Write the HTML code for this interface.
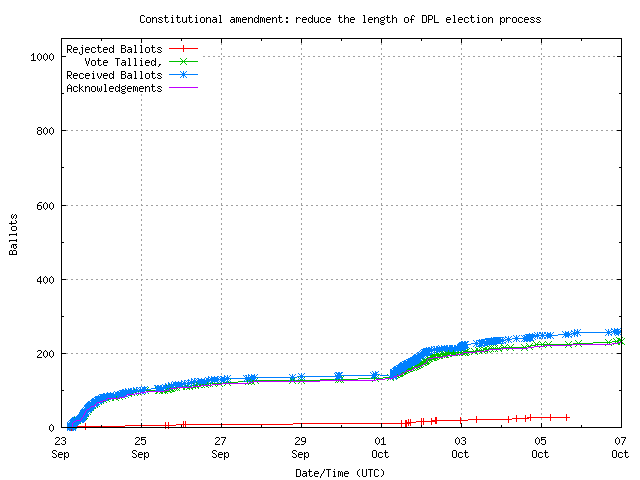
<!DOCTYPE html>
<html><head><meta charset="utf-8"><title>Constitutional amendment: reduce the length of DPL election process</title>
<style>html,body{margin:0;padding:0;background:#fff;overflow:hidden}svg{display:block}
.t{font-family:"Liberation Mono",monospace;font-size:10px;fill:transparent}</style></head><body>
<svg width="640" height="480" viewBox="0 0 640 480" shape-rendering="crispEdges">
<rect x="0" y="0" width="640" height="480" fill="#ffffff"/>
<path id="grid" fill="#a0a0a0" d="M221 38h1v2h-1zM301 38h1v2h-1zM381 38h1v2h-1zM461 38h1v2h-1zM541 38h1v2h-1zM221 43h1v2h-1zM301 43h1v2h-1zM381 43h1v2h-1zM461 43h1v2h-1zM541 43h1v2h-1zM221 48h1v2h-1zM301 48h1v2h-1zM381 48h1v2h-1zM461 48h1v2h-1zM541 48h1v2h-1zM221 53h1v2h-1zM301 53h1v2h-1zM381 53h1v2h-1zM461 53h1v2h-1zM541 53h1v2h-1zM203 56h2v1h-2zM208 56h2v1h-2zM213 56h2v1h-2zM218 56h2v1h-2zM223 56h2v1h-2zM228 56h2v1h-2zM233 56h2v1h-2zM238 56h2v1h-2zM243 56h2v1h-2zM248 56h2v1h-2zM253 56h2v1h-2zM258 56h2v1h-2zM263 56h2v1h-2zM268 56h2v1h-2zM273 56h2v1h-2zM278 56h2v1h-2zM283 56h2v1h-2zM288 56h2v1h-2zM293 56h2v1h-2zM298 56h2v1h-2zM303 56h2v1h-2zM308 56h2v1h-2zM313 56h2v1h-2zM318 56h2v1h-2zM323 56h2v1h-2zM328 56h2v1h-2zM333 56h2v1h-2zM338 56h2v1h-2zM343 56h2v1h-2zM348 56h2v1h-2zM353 56h2v1h-2zM358 56h2v1h-2zM363 56h2v1h-2zM368 56h2v1h-2zM373 56h2v1h-2zM378 56h2v1h-2zM383 56h2v1h-2zM388 56h2v1h-2zM393 56h2v1h-2zM398 56h2v1h-2zM403 56h2v1h-2zM408 56h2v1h-2zM413 56h2v1h-2zM418 56h2v1h-2zM423 56h2v1h-2zM428 56h2v1h-2zM433 56h2v1h-2zM438 56h2v1h-2zM443 56h2v1h-2zM448 56h2v1h-2zM453 56h2v1h-2zM458 56h2v1h-2zM463 56h2v1h-2zM468 56h2v1h-2zM473 56h2v1h-2zM478 56h2v1h-2zM483 56h2v1h-2zM488 56h2v1h-2zM493 56h2v1h-2zM498 56h2v1h-2zM503 56h2v1h-2zM508 56h2v1h-2zM513 56h2v1h-2zM518 56h2v1h-2zM523 56h2v1h-2zM528 56h2v1h-2zM533 56h2v1h-2zM538 56h2v1h-2zM543 56h2v1h-2zM548 56h2v1h-2zM553 56h2v1h-2zM558 56h2v1h-2zM563 56h2v1h-2zM568 56h2v1h-2zM573 56h2v1h-2zM578 56h2v1h-2zM583 56h2v1h-2zM588 56h2v1h-2zM593 56h2v1h-2zM598 56h2v1h-2zM603 56h2v1h-2zM608 56h2v1h-2zM613 56h2v1h-2zM618 56h2v1h-2zM221 58h1v2h-1zM301 58h1v2h-1zM381 58h1v2h-1zM461 58h1v2h-1zM541 58h1v2h-1zM221 63h1v2h-1zM301 63h1v2h-1zM381 63h1v2h-1zM461 63h1v2h-1zM541 63h1v2h-1zM221 68h1v2h-1zM301 68h1v2h-1zM381 68h1v2h-1zM461 68h1v2h-1zM541 68h1v2h-1zM221 73h1v2h-1zM301 73h1v2h-1zM381 73h1v2h-1zM461 73h1v2h-1zM541 73h1v2h-1zM221 78h1v2h-1zM301 78h1v2h-1zM381 78h1v2h-1zM461 78h1v2h-1zM541 78h1v2h-1zM221 83h1v2h-1zM301 83h1v2h-1zM381 83h1v2h-1zM461 83h1v2h-1zM541 83h1v2h-1zM221 88h1v2h-1zM301 88h1v2h-1zM381 88h1v2h-1zM461 88h1v2h-1zM541 88h1v2h-1zM221 93h1v2h-1zM301 93h1v2h-1zM381 93h1v2h-1zM461 93h1v2h-1zM541 93h1v2h-1zM141 94h1v2h-1zM221 98h1v2h-1zM301 98h1v2h-1zM381 98h1v2h-1zM461 98h1v2h-1zM541 98h1v2h-1zM141 99h1v2h-1zM221 103h1v2h-1zM301 103h1v2h-1zM381 103h1v2h-1zM461 103h1v2h-1zM541 103h1v2h-1zM141 104h1v2h-1zM221 108h1v2h-1zM301 108h1v2h-1zM381 108h1v2h-1zM461 108h1v2h-1zM541 108h1v2h-1zM141 109h1v2h-1zM221 113h1v2h-1zM301 113h1v2h-1zM381 113h1v2h-1zM461 113h1v2h-1zM541 113h1v2h-1zM141 114h1v2h-1zM221 118h1v2h-1zM301 118h1v2h-1zM381 118h1v2h-1zM461 118h1v2h-1zM541 118h1v2h-1zM141 119h1v2h-1zM221 123h1v2h-1zM301 123h1v2h-1zM381 123h1v2h-1zM461 123h1v2h-1zM541 123h1v2h-1zM141 124h1v2h-1zM221 128h1v2h-1zM301 128h1v2h-1zM381 128h1v2h-1zM461 128h1v2h-1zM541 128h1v2h-1zM141 129h1v1h-1zM61 130h2v1h-2zM66 130h2v1h-2zM71 130h2v1h-2zM76 130h2v1h-2zM81 130h2v1h-2zM86 130h2v1h-2zM91 130h2v1h-2zM96 130h2v1h-2zM101 130h2v1h-2zM106 130h2v1h-2zM111 130h2v1h-2zM116 130h2v1h-2zM121 130h2v1h-2zM126 130h2v1h-2zM131 130h2v1h-2zM136 130h2v1h-2zM141 130h2v1h-2zM146 130h2v1h-2zM151 130h2v1h-2zM156 130h2v1h-2zM161 130h2v1h-2zM166 130h2v1h-2zM171 130h2v1h-2zM176 130h2v1h-2zM181 130h2v1h-2zM186 130h2v1h-2zM191 130h2v1h-2zM196 130h2v1h-2zM201 130h2v1h-2zM206 130h2v1h-2zM211 130h2v1h-2zM216 130h2v1h-2zM221 130h2v1h-2zM226 130h2v1h-2zM231 130h2v1h-2zM236 130h2v1h-2zM241 130h2v1h-2zM246 130h2v1h-2zM251 130h2v1h-2zM256 130h2v1h-2zM261 130h2v1h-2zM266 130h2v1h-2zM271 130h2v1h-2zM276 130h2v1h-2zM281 130h2v1h-2zM286 130h2v1h-2zM291 130h2v1h-2zM296 130h2v1h-2zM301 130h2v1h-2zM306 130h2v1h-2zM311 130h2v1h-2zM316 130h2v1h-2zM321 130h2v1h-2zM326 130h2v1h-2zM331 130h2v1h-2zM336 130h2v1h-2zM341 130h2v1h-2zM346 130h2v1h-2zM351 130h2v1h-2zM356 130h2v1h-2zM361 130h2v1h-2zM366 130h2v1h-2zM371 130h2v1h-2zM376 130h2v1h-2zM381 130h2v1h-2zM386 130h2v1h-2zM391 130h2v1h-2zM396 130h2v1h-2zM401 130h2v1h-2zM406 130h2v1h-2zM411 130h2v1h-2zM416 130h2v1h-2zM421 130h2v1h-2zM426 130h2v1h-2zM431 130h2v1h-2zM436 130h2v1h-2zM441 130h2v1h-2zM446 130h2v1h-2zM451 130h2v1h-2zM456 130h2v1h-2zM461 130h2v1h-2zM466 130h2v1h-2zM471 130h2v1h-2zM476 130h2v1h-2zM481 130h2v1h-2zM486 130h2v1h-2zM491 130h2v1h-2zM496 130h2v1h-2zM501 130h2v1h-2zM506 130h2v1h-2zM511 130h2v1h-2zM516 130h2v1h-2zM521 130h2v1h-2zM526 130h2v1h-2zM531 130h2v1h-2zM536 130h2v1h-2zM541 130h2v1h-2zM546 130h2v1h-2zM551 130h2v1h-2zM556 130h2v1h-2zM561 130h2v1h-2zM566 130h2v1h-2zM571 130h2v1h-2zM576 130h2v1h-2zM581 130h2v1h-2zM586 130h2v1h-2zM591 130h2v1h-2zM596 130h2v1h-2zM601 130h2v1h-2zM606 130h2v1h-2zM611 130h2v1h-2zM616 130h2v1h-2zM621 130h1v1h-1zM221 133h1v2h-1zM301 133h1v2h-1zM381 133h1v2h-1zM461 133h1v2h-1zM541 133h1v2h-1zM141 134h1v2h-1zM221 138h1v2h-1zM301 138h1v2h-1zM381 138h1v2h-1zM461 138h1v2h-1zM541 138h1v2h-1zM141 139h1v2h-1zM221 143h1v2h-1zM301 143h1v2h-1zM381 143h1v2h-1zM461 143h1v2h-1zM541 143h1v2h-1zM141 144h1v2h-1zM221 148h1v2h-1zM301 148h1v2h-1zM381 148h1v2h-1zM461 148h1v2h-1zM541 148h1v2h-1zM141 149h1v2h-1zM221 153h1v2h-1zM301 153h1v2h-1zM381 153h1v2h-1zM461 153h1v2h-1zM541 153h1v2h-1zM141 154h1v2h-1zM221 158h1v2h-1zM301 158h1v2h-1zM381 158h1v2h-1zM461 158h1v2h-1zM541 158h1v2h-1zM141 159h1v2h-1zM221 163h1v2h-1zM301 163h1v2h-1zM381 163h1v2h-1zM461 163h1v2h-1zM541 163h1v2h-1zM141 164h1v2h-1zM221 168h1v2h-1zM301 168h1v2h-1zM381 168h1v2h-1zM461 168h1v2h-1zM541 168h1v2h-1zM141 169h1v2h-1zM221 173h1v2h-1zM301 173h1v2h-1zM381 173h1v2h-1zM461 173h1v2h-1zM541 173h1v2h-1zM141 174h1v2h-1zM221 178h1v2h-1zM301 178h1v2h-1zM381 178h1v2h-1zM461 178h1v2h-1zM541 178h1v2h-1zM141 179h1v2h-1zM221 183h1v2h-1zM301 183h1v2h-1zM381 183h1v2h-1zM461 183h1v2h-1zM541 183h1v2h-1zM141 184h1v2h-1zM221 188h1v2h-1zM301 188h1v2h-1zM381 188h1v2h-1zM461 188h1v2h-1zM541 188h1v2h-1zM141 189h1v2h-1zM221 193h1v2h-1zM301 193h1v2h-1zM381 193h1v2h-1zM461 193h1v2h-1zM541 193h1v2h-1zM141 194h1v2h-1zM221 198h1v2h-1zM301 198h1v2h-1zM381 198h1v2h-1zM461 198h1v2h-1zM541 198h1v2h-1zM141 199h1v2h-1zM221 203h1v2h-1zM301 203h1v2h-1zM381 203h1v2h-1zM461 203h1v2h-1zM541 203h1v2h-1zM141 204h1v1h-1zM61 205h2v1h-2zM66 205h2v1h-2zM71 205h2v1h-2zM76 205h2v1h-2zM81 205h2v1h-2zM86 205h2v1h-2zM91 205h2v1h-2zM96 205h2v1h-2zM101 205h2v1h-2zM106 205h2v1h-2zM111 205h2v1h-2zM116 205h2v1h-2zM121 205h2v1h-2zM126 205h2v1h-2zM131 205h2v1h-2zM136 205h2v1h-2zM141 205h2v1h-2zM146 205h2v1h-2zM151 205h2v1h-2zM156 205h2v1h-2zM161 205h2v1h-2zM166 205h2v1h-2zM171 205h2v1h-2zM176 205h2v1h-2zM181 205h2v1h-2zM186 205h2v1h-2zM191 205h2v1h-2zM196 205h2v1h-2zM201 205h2v1h-2zM206 205h2v1h-2zM211 205h2v1h-2zM216 205h2v1h-2zM221 205h2v1h-2zM226 205h2v1h-2zM231 205h2v1h-2zM236 205h2v1h-2zM241 205h2v1h-2zM246 205h2v1h-2zM251 205h2v1h-2zM256 205h2v1h-2zM261 205h2v1h-2zM266 205h2v1h-2zM271 205h2v1h-2zM276 205h2v1h-2zM281 205h2v1h-2zM286 205h2v1h-2zM291 205h2v1h-2zM296 205h2v1h-2zM301 205h2v1h-2zM306 205h2v1h-2zM311 205h2v1h-2zM316 205h2v1h-2zM321 205h2v1h-2zM326 205h2v1h-2zM331 205h2v1h-2zM336 205h2v1h-2zM341 205h2v1h-2zM346 205h2v1h-2zM351 205h2v1h-2zM356 205h2v1h-2zM361 205h2v1h-2zM366 205h2v1h-2zM371 205h2v1h-2zM376 205h2v1h-2zM381 205h2v1h-2zM386 205h2v1h-2zM391 205h2v1h-2zM396 205h2v1h-2zM401 205h2v1h-2zM406 205h2v1h-2zM411 205h2v1h-2zM416 205h2v1h-2zM421 205h2v1h-2zM426 205h2v1h-2zM431 205h2v1h-2zM436 205h2v1h-2zM441 205h2v1h-2zM446 205h2v1h-2zM451 205h2v1h-2zM456 205h2v1h-2zM461 205h2v1h-2zM466 205h2v1h-2zM471 205h2v1h-2zM476 205h2v1h-2zM481 205h2v1h-2zM486 205h2v1h-2zM491 205h2v1h-2zM496 205h2v1h-2zM501 205h2v1h-2zM506 205h2v1h-2zM511 205h2v1h-2zM516 205h2v1h-2zM521 205h2v1h-2zM526 205h2v1h-2zM531 205h2v1h-2zM536 205h2v1h-2zM541 205h2v1h-2zM546 205h2v1h-2zM551 205h2v1h-2zM556 205h2v1h-2zM561 205h2v1h-2zM566 205h2v1h-2zM571 205h2v1h-2zM576 205h2v1h-2zM581 205h2v1h-2zM586 205h2v1h-2zM591 205h2v1h-2zM596 205h2v1h-2zM601 205h2v1h-2zM606 205h2v1h-2zM611 205h2v1h-2zM616 205h2v1h-2zM621 205h1v1h-1zM221 208h1v2h-1zM301 208h1v2h-1zM381 208h1v2h-1zM461 208h1v2h-1zM541 208h1v2h-1zM141 209h1v2h-1zM221 213h1v2h-1zM301 213h1v2h-1zM381 213h1v2h-1zM461 213h1v2h-1zM541 213h1v2h-1zM141 214h1v2h-1zM221 218h1v2h-1zM301 218h1v2h-1zM381 218h1v2h-1zM461 218h1v2h-1zM541 218h1v2h-1zM141 219h1v2h-1zM221 223h1v2h-1zM301 223h1v2h-1zM381 223h1v2h-1zM461 223h1v2h-1zM541 223h1v2h-1zM141 224h1v2h-1zM221 228h1v2h-1zM301 228h1v2h-1zM381 228h1v2h-1zM461 228h1v2h-1zM541 228h1v2h-1zM141 229h1v2h-1zM221 233h1v2h-1zM301 233h1v2h-1zM381 233h1v2h-1zM461 233h1v2h-1zM541 233h1v2h-1zM141 234h1v2h-1zM221 238h1v2h-1zM301 238h1v2h-1zM381 238h1v2h-1zM461 238h1v2h-1zM541 238h1v2h-1zM141 239h1v2h-1zM221 243h1v2h-1zM301 243h1v2h-1zM381 243h1v2h-1zM461 243h1v2h-1zM541 243h1v2h-1zM141 244h1v2h-1zM221 248h1v2h-1zM301 248h1v2h-1zM381 248h1v2h-1zM461 248h1v2h-1zM541 248h1v2h-1zM141 249h1v2h-1zM221 253h1v2h-1zM301 253h1v2h-1zM381 253h1v2h-1zM461 253h1v2h-1zM541 253h1v2h-1zM141 254h1v2h-1zM221 258h1v2h-1zM301 258h1v2h-1zM381 258h1v2h-1zM461 258h1v2h-1zM541 258h1v2h-1zM141 259h1v2h-1zM221 263h1v2h-1zM301 263h1v2h-1zM381 263h1v2h-1zM461 263h1v2h-1zM541 263h1v2h-1zM141 264h1v2h-1zM221 268h1v2h-1zM301 268h1v2h-1zM381 268h1v2h-1zM461 268h1v2h-1zM541 268h1v2h-1zM141 269h1v2h-1zM221 273h1v2h-1zM301 273h1v2h-1zM381 273h1v2h-1zM461 273h1v2h-1zM541 273h1v2h-1zM141 274h1v2h-1zM221 278h1v1h-1zM301 278h1v1h-1zM381 278h1v1h-1zM461 278h1v1h-1zM541 278h1v1h-1zM61 279h2v1h-2zM66 279h2v1h-2zM71 279h2v1h-2zM76 279h2v1h-2zM81 279h2v1h-2zM86 279h2v1h-2zM91 279h2v1h-2zM96 279h2v1h-2zM101 279h2v1h-2zM106 279h2v1h-2zM111 279h2v1h-2zM116 279h2v1h-2zM121 279h2v1h-2zM126 279h2v1h-2zM131 279h2v1h-2zM136 279h2v1h-2zM141 279h2v1h-2zM146 279h2v1h-2zM151 279h2v1h-2zM156 279h2v1h-2zM161 279h2v1h-2zM166 279h2v1h-2zM171 279h2v1h-2zM176 279h2v1h-2zM181 279h2v1h-2zM186 279h2v1h-2zM191 279h2v1h-2zM196 279h2v1h-2zM201 279h2v1h-2zM206 279h2v1h-2zM211 279h2v1h-2zM216 279h2v1h-2zM221 279h2v1h-2zM226 279h2v1h-2zM231 279h2v1h-2zM236 279h2v1h-2zM241 279h2v1h-2zM246 279h2v1h-2zM251 279h2v1h-2zM256 279h2v1h-2zM261 279h2v1h-2zM266 279h2v1h-2zM271 279h2v1h-2zM276 279h2v1h-2zM281 279h2v1h-2zM286 279h2v1h-2zM291 279h2v1h-2zM296 279h2v1h-2zM301 279h2v1h-2zM306 279h2v1h-2zM311 279h2v1h-2zM316 279h2v1h-2zM321 279h2v1h-2zM326 279h2v1h-2zM331 279h2v1h-2zM336 279h2v1h-2zM341 279h2v1h-2zM346 279h2v1h-2zM351 279h2v1h-2zM356 279h2v1h-2zM361 279h2v1h-2zM366 279h2v1h-2zM371 279h2v1h-2zM376 279h2v1h-2zM381 279h2v1h-2zM386 279h2v1h-2zM391 279h2v1h-2zM396 279h2v1h-2zM401 279h2v1h-2zM406 279h2v1h-2zM411 279h2v1h-2zM416 279h2v1h-2zM421 279h2v1h-2zM426 279h2v1h-2zM431 279h2v1h-2zM436 279h2v1h-2zM441 279h2v1h-2zM446 279h2v1h-2zM451 279h2v1h-2zM456 279h2v1h-2zM461 279h2v1h-2zM466 279h2v1h-2zM471 279h2v1h-2zM476 279h2v1h-2zM481 279h2v1h-2zM486 279h2v1h-2zM491 279h2v1h-2zM496 279h2v1h-2zM501 279h2v1h-2zM506 279h2v1h-2zM511 279h2v1h-2zM516 279h2v1h-2zM521 279h2v1h-2zM526 279h2v1h-2zM531 279h2v1h-2zM536 279h2v1h-2zM541 279h2v1h-2zM546 279h2v1h-2zM551 279h2v1h-2zM556 279h2v1h-2zM561 279h2v1h-2zM566 279h2v1h-2zM571 279h2v1h-2zM576 279h2v1h-2zM581 279h2v1h-2zM586 279h2v1h-2zM591 279h2v1h-2zM596 279h2v1h-2zM601 279h2v1h-2zM606 279h2v1h-2zM611 279h2v1h-2zM616 279h2v1h-2zM621 279h1v1h-1zM141 280h1v1h-1zM221 283h1v2h-1zM301 283h1v2h-1zM381 283h1v2h-1zM461 283h1v2h-1zM541 283h1v2h-1zM141 284h1v2h-1zM221 288h1v2h-1zM301 288h1v2h-1zM381 288h1v2h-1zM461 288h1v2h-1zM541 288h1v2h-1zM141 289h1v2h-1zM221 293h1v2h-1zM301 293h1v2h-1zM381 293h1v2h-1zM461 293h1v2h-1zM541 293h1v2h-1zM141 294h1v2h-1zM221 298h1v2h-1zM301 298h1v2h-1zM381 298h1v2h-1zM461 298h1v2h-1zM541 298h1v2h-1zM141 299h1v2h-1zM221 303h1v2h-1zM301 303h1v2h-1zM381 303h1v2h-1zM461 303h1v2h-1zM541 303h1v2h-1zM141 304h1v2h-1zM221 308h1v2h-1zM301 308h1v2h-1zM381 308h1v2h-1zM461 308h1v2h-1zM541 308h1v2h-1zM141 309h1v2h-1zM221 313h1v2h-1zM301 313h1v2h-1zM381 313h1v2h-1zM461 313h1v2h-1zM541 313h1v2h-1zM141 314h1v2h-1zM221 318h1v2h-1zM301 318h1v2h-1zM381 318h1v2h-1zM461 318h1v2h-1zM541 318h1v2h-1zM141 319h1v2h-1zM221 323h1v2h-1zM301 323h1v2h-1zM381 323h1v2h-1zM461 323h1v2h-1zM541 323h1v2h-1zM141 324h1v2h-1zM221 328h1v2h-1zM301 328h1v2h-1zM381 328h1v2h-1zM461 328h1v2h-1zM541 328h1v2h-1zM141 329h1v2h-1zM221 333h1v2h-1zM301 333h1v2h-1zM381 333h1v2h-1zM461 333h1v2h-1zM541 333h1v2h-1zM141 334h1v2h-1zM221 338h1v2h-1zM301 338h1v2h-1zM381 338h1v2h-1zM461 338h1v2h-1zM541 338h1v2h-1zM141 339h1v2h-1zM221 343h1v2h-1zM301 343h1v2h-1zM381 343h1v2h-1zM461 343h1v2h-1zM541 343h1v2h-1zM141 344h1v2h-1zM221 348h1v2h-1zM301 348h1v2h-1zM381 348h1v2h-1zM461 348h1v2h-1zM541 348h1v2h-1zM141 349h1v2h-1zM61 353h2v1h-2zM66 353h2v1h-2zM71 353h2v1h-2zM76 353h2v1h-2zM81 353h2v1h-2zM86 353h2v1h-2zM91 353h2v1h-2zM96 353h2v1h-2zM101 353h2v1h-2zM106 353h2v1h-2zM111 353h2v1h-2zM116 353h2v1h-2zM121 353h2v1h-2zM126 353h2v1h-2zM131 353h2v1h-2zM136 353h2v1h-2zM141 353h2v1h-2zM146 353h2v1h-2zM151 353h2v1h-2zM156 353h2v1h-2zM161 353h2v1h-2zM166 353h2v1h-2zM171 353h2v1h-2zM176 353h2v1h-2zM181 353h2v1h-2zM186 353h2v1h-2zM191 353h2v1h-2zM196 353h2v1h-2zM201 353h2v1h-2zM206 353h2v1h-2zM211 353h2v1h-2zM216 353h2v1h-2zM221 353h2v1h-2zM226 353h2v1h-2zM231 353h2v1h-2zM236 353h2v1h-2zM241 353h2v1h-2zM246 353h2v1h-2zM251 353h2v1h-2zM256 353h2v1h-2zM261 353h2v1h-2zM266 353h2v1h-2zM271 353h2v1h-2zM276 353h2v1h-2zM281 353h2v1h-2zM286 353h2v1h-2zM291 353h2v1h-2zM296 353h2v1h-2zM301 353h2v1h-2zM306 353h2v1h-2zM311 353h2v1h-2zM316 353h2v1h-2zM321 353h2v1h-2zM326 353h2v1h-2zM331 353h2v1h-2zM336 353h2v1h-2zM341 353h2v1h-2zM346 353h2v1h-2zM351 353h2v1h-2zM356 353h2v1h-2zM361 353h2v1h-2zM366 353h2v1h-2zM371 353h2v1h-2zM376 353h2v1h-2zM381 353h2v1h-2zM386 353h2v1h-2zM391 353h2v1h-2zM396 353h2v1h-2zM401 353h2v1h-2zM406 353h2v1h-2zM411 353h2v1h-2zM416 353h2v1h-2zM421 353h2v1h-2zM426 353h2v1h-2zM431 353h2v1h-2zM436 353h2v1h-2zM441 353h2v1h-2zM446 353h2v1h-2zM451 353h2v1h-2zM456 353h2v1h-2zM461 353h2v1h-2zM466 353h2v1h-2zM471 353h2v1h-2zM476 353h2v1h-2zM481 353h2v1h-2zM486 353h2v1h-2zM491 353h2v1h-2zM496 353h2v1h-2zM501 353h2v1h-2zM506 353h2v1h-2zM511 353h2v1h-2zM516 353h2v1h-2zM521 353h2v1h-2zM526 353h2v1h-2zM531 353h2v1h-2zM536 353h2v1h-2zM541 353h2v1h-2zM546 353h2v1h-2zM551 353h2v1h-2zM556 353h2v1h-2zM561 353h2v1h-2zM566 353h2v1h-2zM571 353h2v1h-2zM576 353h2v1h-2zM581 353h2v1h-2zM586 353h2v1h-2zM591 353h2v1h-2zM596 353h2v1h-2zM601 353h2v1h-2zM606 353h2v1h-2zM611 353h2v1h-2zM616 353h2v1h-2zM621 353h1v1h-1zM141 354h1v2h-1zM221 354h1v1h-1zM301 354h1v1h-1zM381 354h1v1h-1zM461 354h1v1h-1zM541 354h1v1h-1zM221 358h1v2h-1zM301 358h1v2h-1zM381 358h1v2h-1zM461 358h1v2h-1zM541 358h1v2h-1zM141 359h1v2h-1zM221 363h1v2h-1zM301 363h1v2h-1zM381 363h1v2h-1zM461 363h1v2h-1zM541 363h1v2h-1zM141 364h1v2h-1zM221 368h1v2h-1zM301 368h1v2h-1zM381 368h1v2h-1zM461 368h1v2h-1zM541 368h1v2h-1zM141 369h1v2h-1zM221 373h1v2h-1zM301 373h1v2h-1zM381 373h1v2h-1zM461 373h1v2h-1zM541 373h1v2h-1zM141 374h1v2h-1zM221 378h1v2h-1zM301 378h1v2h-1zM381 378h1v2h-1zM461 378h1v2h-1zM541 378h1v2h-1zM141 379h1v2h-1zM221 383h1v2h-1zM301 383h1v2h-1zM381 383h1v2h-1zM461 383h1v2h-1zM541 383h1v2h-1zM141 384h1v2h-1zM221 388h1v2h-1zM301 388h1v2h-1zM381 388h1v2h-1zM461 388h1v2h-1zM541 388h1v2h-1zM141 389h1v2h-1zM221 393h1v2h-1zM301 393h1v2h-1zM381 393h1v2h-1zM461 393h1v2h-1zM541 393h1v2h-1zM141 394h1v2h-1zM221 398h1v2h-1zM301 398h1v2h-1zM381 398h1v2h-1zM461 398h1v2h-1zM541 398h1v2h-1zM141 399h1v2h-1zM221 403h1v2h-1zM301 403h1v2h-1zM381 403h1v2h-1zM461 403h1v2h-1zM541 403h1v2h-1zM141 404h1v2h-1zM221 408h1v2h-1zM301 408h1v2h-1zM381 408h1v2h-1zM461 408h1v2h-1zM541 408h1v2h-1zM141 409h1v2h-1zM221 413h1v2h-1zM301 413h1v2h-1zM381 413h1v2h-1zM461 413h1v2h-1zM541 413h1v2h-1zM141 414h1v2h-1zM221 418h1v2h-1zM301 418h1v2h-1zM381 418h1v2h-1zM461 418h1v2h-1zM541 418h1v2h-1zM141 419h1v2h-1zM221 423h1v2h-1zM301 423h1v2h-1zM381 423h1v2h-1zM461 423h1v2h-1zM541 423h1v2h-1zM141 424h1v2h-1z"/>
<g id="labels" fill="#000000">
<path d="M141 15h3v1h-3zM165 15h1v2h-1zM172 15h1v1h-1zM177 15h1v2h-1zM189 15h1v2h-1zM196 15h1v1h-1zM219 15h2v1h-2zM258 15h1v3h-1zM279 15h1v2h-1zM312 15h1v3h-1zM339 15h1v2h-1zM344 15h1v3h-1zM363 15h2v1h-2zM387 15h1v2h-1zM392 15h1v3h-1zM412 15h2v1h-2zM422 15h4v1h-4zM428 15h4v1h-4zM434 15h1v7h-1zM453 15h2v1h-2zM471 15h1v2h-1zM478 15h1v1h-1zM140 16h1v6h-1zM144 16h1v1h-1zM220 16h1v6h-1zM364 16h1v6h-1zM384 16h1v1h-1zM411 16h1v3h-1zM414 16h1v1h-1zM422 16h1v6h-1zM426 16h1v6h-1zM428 16h1v3h-1zM432 16h1v3h-1zM454 16h1v6h-1zM147 17h3v1h-3zM152 17h1v1h-1zM154 17h2v1h-2zM159 17h3v1h-3zM164 17h4v1h-4zM171 17h2v1h-2zM176 17h4v1h-4zM182 17h1v5h-1zM186 17h1v4h-1zM188 17h4v1h-4zM195 17h2v1h-2zM201 17h3v1h-3zM206 17h1v1h-1zM208 17h2v1h-2zM213 17h3v1h-3zM231 17h3v1h-3zM236 17h2v1h-2zM239 17h1v1h-1zM243 17h3v1h-3zM248 17h1v1h-1zM250 17h2v1h-2zM255 17h2v1h-2zM260 17h2v1h-2zM263 17h1v1h-1zM267 17h3v1h-3zM272 17h1v1h-1zM274 17h2v1h-2zM278 17h4v1h-4zM286 17h2v2h-2zM296 17h1v1h-1zM298 17h2v1h-2zM303 17h3v1h-3zM309 17h2v1h-2zM314 17h1v5h-1zM318 17h1v4h-1zM321 17h3v1h-3zM327 17h3v1h-3zM338 17h4v1h-4zM346 17h2v1h-2zM351 17h3v1h-3zM369 17h3v1h-3zM374 17h1v1h-1zM376 17h2v1h-2zM381 17h3v1h-3zM386 17h4v1h-4zM394 17h2v1h-2zM405 17h3v1h-3zM447 17h3v1h-3zM459 17h3v1h-3zM465 17h3v1h-3zM470 17h4v1h-4zM477 17h2v1h-2zM483 17h3v1h-3zM488 17h1v1h-1zM490 17h2v1h-2zM500 17h1v1h-1zM502 17h2v1h-2zM506 17h1v1h-1zM508 17h2v1h-2zM513 17h3v1h-3zM519 17h3v1h-3zM525 17h3v1h-3zM531 17h3v1h-3zM537 17h3v1h-3zM146 18h1v4h-1zM150 18h1v4h-1zM152 18h2v1h-2zM156 18h1v5h-1zM158 18h1v1h-1zM162 18h1v1h-1zM165 18h1v4h-1zM172 18h1v4h-1zM177 18h1v4h-1zM189 18h1v4h-1zM196 18h1v4h-1zM200 18h1v4h-1zM204 18h1v4h-1zM206 18h2v1h-2zM210 18h1v5h-1zM216 18h1v1h-1zM234 18h1v1h-1zM236 18h1v5h-1zM238 18h1v4h-1zM240 18h1v5h-1zM242 18h1v1h-1zM246 18h1v1h-1zM248 18h2v1h-2zM252 18h1v5h-1zM254 18h1v4h-1zM257 18h2v1h-2zM260 18h1v5h-1zM262 18h1v4h-1zM264 18h1v5h-1zM266 18h1v1h-1zM270 18h1v1h-1zM272 18h2v1h-2zM276 18h1v5h-1zM279 18h1v4h-1zM296 18h2v1h-2zM300 18h1v1h-1zM302 18h1v1h-1zM306 18h1v1h-1zM308 18h1v4h-1zM311 18h2v1h-2zM320 18h1v4h-1zM324 18h1v1h-1zM326 18h1v1h-1zM330 18h1v1h-1zM339 18h1v4h-1zM344 18h2v1h-2zM348 18h1v5h-1zM350 18h1v1h-1zM354 18h1v1h-1zM368 18h1v1h-1zM372 18h1v1h-1zM374 18h2v1h-2zM378 18h1v5h-1zM380 18h1v2h-1zM384 18h1v2h-1zM387 18h1v4h-1zM392 18h2v1h-2zM396 18h1v5h-1zM404 18h1v4h-1zM408 18h1v4h-1zM446 18h1v1h-1zM450 18h1v1h-1zM458 18h1v1h-1zM462 18h1v1h-1zM464 18h1v4h-1zM468 18h1v1h-1zM471 18h1v4h-1zM478 18h1v4h-1zM482 18h1v4h-1zM486 18h1v4h-1zM488 18h2v1h-2zM492 18h1v5h-1zM500 18h2v1h-2zM504 18h1v4h-1zM506 18h2v1h-2zM510 18h1v1h-1zM512 18h1v4h-1zM516 18h1v4h-1zM518 18h1v4h-1zM522 18h1v1h-1zM524 18h1v1h-1zM528 18h1v1h-1zM530 18h1v1h-1zM534 18h1v1h-1zM536 18h1v1h-1zM540 18h1v1h-1zM152 19h1v4h-1zM159 19h2v1h-2zM206 19h1v4h-1zM213 19h4v1h-4zM231 19h4v1h-4zM242 19h5v1h-5zM248 19h1v4h-1zM258 19h1v2h-1zM266 19h5v1h-5zM272 19h1v4h-1zM296 19h1v4h-1zM302 19h5v1h-5zM312 19h1v2h-1zM326 19h5v1h-5zM344 19h1v4h-1zM350 19h5v1h-5zM368 19h5v1h-5zM374 19h1v4h-1zM392 19h1v4h-1zM410 19h4v1h-4zM428 19h4v1h-4zM446 19h5v1h-5zM458 19h5v1h-5zM488 19h1v4h-1zM500 19h1v2h-1zM506 19h1v4h-1zM524 19h5v1h-5zM531 19h2v1h-2zM537 19h2v1h-2zM161 20h1v1h-1zM212 20h1v2h-1zM216 20h1v1h-1zM230 20h1v2h-1zM234 20h1v1h-1zM242 20h1v2h-1zM266 20h1v2h-1zM302 20h1v2h-1zM326 20h1v2h-1zM350 20h1v2h-1zM368 20h1v2h-1zM381 20h3v1h-3zM411 20h1v3h-1zM428 20h1v3h-1zM446 20h1v2h-1zM458 20h1v2h-1zM524 20h1v2h-1zM533 20h1v1h-1zM539 20h1v1h-1zM144 21h1v1h-1zM158 21h1v1h-1zM162 21h1v1h-1zM168 21h1v1h-1zM180 21h1v1h-1zM185 21h2v1h-2zM192 21h1v1h-1zM215 21h2v1h-2zM233 21h2v1h-2zM257 21h2v1h-2zM282 21h1v1h-1zM286 21h2v2h-2zM311 21h2v1h-2zM317 21h2v1h-2zM324 21h1v1h-1zM342 21h1v1h-1zM380 21h1v1h-1zM390 21h1v1h-1zM468 21h1v1h-1zM474 21h1v1h-1zM500 21h2v1h-2zM522 21h1v1h-1zM530 21h1v1h-1zM534 21h1v1h-1zM536 21h1v1h-1zM540 21h1v1h-1zM141 22h3v1h-3zM147 22h3v1h-3zM159 22h3v1h-3zM166 22h2v1h-2zM171 22h3v1h-3zM178 22h2v1h-2zM183 22h2v1h-2zM186 22h1v1h-1zM190 22h2v1h-2zM195 22h3v1h-3zM201 22h3v1h-3zM213 22h2v1h-2zM216 22h1v1h-1zM219 22h3v1h-3zM231 22h2v1h-2zM234 22h1v1h-1zM243 22h3v1h-3zM255 22h2v1h-2zM258 22h1v1h-1zM267 22h3v1h-3zM280 22h2v1h-2zM303 22h3v1h-3zM309 22h2v1h-2zM312 22h1v1h-1zM315 22h2v1h-2zM318 22h1v1h-1zM321 22h3v1h-3zM327 22h3v1h-3zM340 22h2v1h-2zM351 22h3v1h-3zM363 22h3v1h-3zM369 22h3v1h-3zM381 22h3v1h-3zM388 22h2v1h-2zM405 22h3v1h-3zM422 22h4v1h-4zM434 22h5v1h-5zM447 22h3v1h-3zM453 22h3v1h-3zM459 22h3v1h-3zM465 22h3v1h-3zM472 22h2v1h-2zM477 22h3v1h-3zM483 22h3v1h-3zM500 22h1v3h-1zM502 22h2v1h-2zM513 22h3v1h-3zM519 22h3v1h-3zM525 22h3v1h-3zM531 22h3v1h-3zM537 22h3v1h-3zM380 23h1v1h-1zM384 23h1v1h-1zM381 24h3v1h-3z"/>
<path d="M51 424h1v1h-1zM50 425h1v1h-1zM52 425h1v1h-1zM49 426h1v4h-1zM53 426h1v4h-1zM50 430h1v1h-1zM52 430h1v1h-1zM51 431h1v1h-1z"/>
<path d="M38 350h3v1h-3zM45 350h1v1h-1zM51 350h1v1h-1zM37 351h1v1h-1zM41 351h1v2h-1zM44 351h1v1h-1zM46 351h1v1h-1zM50 351h1v1h-1zM52 351h1v1h-1zM43 352h1v4h-1zM47 352h1v4h-1zM49 352h1v4h-1zM53 352h1v4h-1zM40 353h1v1h-1zM39 354h1v1h-1zM38 355h1v1h-1zM37 356h1v1h-1zM44 356h1v1h-1zM46 356h1v1h-1zM50 356h1v1h-1zM52 356h1v1h-1zM37 357h5v1h-5zM45 357h1v1h-1zM51 357h1v1h-1z"/>
<path d="M40 276h1v1h-1zM45 276h1v1h-1zM51 276h1v1h-1zM39 277h2v1h-2zM44 277h1v1h-1zM46 277h1v1h-1zM50 277h1v1h-1zM52 277h1v1h-1zM38 278h1v1h-1zM40 278h1v3h-1zM43 278h1v4h-1zM47 278h1v4h-1zM49 278h1v4h-1zM53 278h1v4h-1zM37 279h1v2h-1zM37 281h5v1h-5zM40 282h1v2h-1zM44 282h1v1h-1zM46 282h1v1h-1zM50 282h1v1h-1zM52 282h1v1h-1zM45 283h1v1h-1zM51 283h1v1h-1z"/>
<path d="M39 202h3v1h-3zM45 202h1v1h-1zM51 202h1v1h-1zM38 203h1v1h-1zM44 203h1v1h-1zM46 203h1v1h-1zM50 203h1v1h-1zM52 203h1v1h-1zM37 204h1v1h-1zM43 204h1v4h-1zM47 204h1v4h-1zM49 204h1v4h-1zM53 204h1v4h-1zM37 205h4v1h-4zM37 206h1v3h-1zM41 206h1v3h-1zM44 208h1v1h-1zM46 208h1v1h-1zM50 208h1v1h-1zM52 208h1v1h-1zM38 209h3v1h-3zM45 209h1v1h-1zM51 209h1v1h-1z"/>
<path d="M38 127h3v1h-3zM45 127h1v1h-1zM51 127h1v1h-1zM37 128h1v2h-1zM41 128h1v2h-1zM44 128h1v1h-1zM46 128h1v1h-1zM50 128h1v1h-1zM52 128h1v1h-1zM43 129h1v4h-1zM47 129h1v4h-1zM49 129h1v4h-1zM53 129h1v4h-1zM38 130h3v1h-3zM37 131h1v3h-1zM41 131h1v3h-1zM44 133h1v1h-1zM46 133h1v1h-1zM50 133h1v1h-1zM52 133h1v1h-1zM38 134h3v1h-3zM45 134h1v1h-1zM51 134h1v1h-1z"/>
<path d="M33 53h1v1h-1zM39 53h1v1h-1zM45 53h1v1h-1zM51 53h1v1h-1zM32 54h2v1h-2zM38 54h1v1h-1zM40 54h1v1h-1zM44 54h1v1h-1zM46 54h1v1h-1zM50 54h1v1h-1zM52 54h1v1h-1zM31 55h1v1h-1zM33 55h1v5h-1zM37 55h1v4h-1zM41 55h1v4h-1zM43 55h1v4h-1zM47 55h1v4h-1zM49 55h1v4h-1zM53 55h1v4h-1zM38 59h1v1h-1zM40 59h1v1h-1zM44 59h1v1h-1zM46 59h1v1h-1zM50 59h1v1h-1zM52 59h1v1h-1zM31 60h5v1h-5zM39 60h1v1h-1zM45 60h1v1h-1zM51 60h1v1h-1z"/>
<path d="M56 437h3v1h-3zM62 437h3v1h-3zM55 438h1v1h-1zM59 438h1v2h-1zM61 438h1v1h-1zM65 438h1v2h-1zM58 440h1v1h-1zM63 440h2v1h-2zM57 441h1v1h-1zM65 441h1v3h-1zM56 442h1v1h-1zM55 443h1v1h-1zM61 443h1v1h-1zM55 444h5v1h-5zM62 444h3v1h-3z"/>
<path d="M53 450h3v1h-3zM52 451h1v2h-1zM56 451h1v1h-1zM59 452h3v1h-3zM64 452h1v1h-1zM66 452h2v1h-2zM53 453h2v1h-2zM58 453h1v1h-1zM62 453h1v1h-1zM64 453h2v1h-2zM68 453h1v4h-1zM55 454h1v1h-1zM58 454h5v1h-5zM64 454h1v2h-1zM56 455h1v2h-1zM58 455h1v2h-1zM52 456h1v1h-1zM64 456h2v1h-2zM53 457h3v1h-3zM59 457h3v1h-3zM64 457h1v3h-1zM66 457h2v1h-2z"/>
<path d="M136 437h3v1h-3zM141 437h5v1h-5zM135 438h1v1h-1zM139 438h1v2h-1zM141 438h1v1h-1zM141 439h4v1h-4zM138 440h1v1h-1zM141 440h1v1h-1zM145 440h1v4h-1zM137 441h1v1h-1zM136 442h1v1h-1zM135 443h1v1h-1zM141 443h1v1h-1zM135 444h5v1h-5zM142 444h3v1h-3z"/>
<path d="M133 450h3v1h-3zM132 451h1v2h-1zM136 451h1v1h-1zM139 452h3v1h-3zM144 452h1v1h-1zM146 452h2v1h-2zM133 453h2v1h-2zM138 453h1v1h-1zM142 453h1v1h-1zM144 453h2v1h-2zM148 453h1v4h-1zM135 454h1v1h-1zM138 454h5v1h-5zM144 454h1v2h-1zM136 455h1v2h-1zM138 455h1v2h-1zM132 456h1v1h-1zM144 456h2v1h-2zM133 457h3v1h-3zM139 457h3v1h-3zM144 457h1v3h-1zM146 457h2v1h-2z"/>
<path d="M216 437h3v1h-3zM221 437h5v1h-5zM215 438h1v1h-1zM219 438h1v2h-1zM225 438h1v1h-1zM224 439h1v2h-1zM218 440h1v1h-1zM217 441h1v1h-1zM223 441h1v2h-1zM216 442h1v1h-1zM215 443h1v1h-1zM222 443h1v2h-1zM215 444h5v1h-5z"/>
<path d="M213 450h3v1h-3zM212 451h1v2h-1zM216 451h1v1h-1zM219 452h3v1h-3zM224 452h1v1h-1zM226 452h2v1h-2zM213 453h2v1h-2zM218 453h1v1h-1zM222 453h1v1h-1zM224 453h2v1h-2zM228 453h1v4h-1zM215 454h1v1h-1zM218 454h5v1h-5zM224 454h1v2h-1zM216 455h1v2h-1zM218 455h1v2h-1zM212 456h1v1h-1zM224 456h2v1h-2zM213 457h3v1h-3zM219 457h3v1h-3zM224 457h1v3h-1zM226 457h2v1h-2z"/>
<path d="M296 437h3v1h-3zM302 437h3v1h-3zM295 438h1v1h-1zM299 438h1v2h-1zM301 438h1v3h-1zM305 438h1v3h-1zM298 440h1v1h-1zM297 441h1v1h-1zM302 441h4v1h-4zM296 442h1v1h-1zM305 442h1v1h-1zM295 443h1v1h-1zM304 443h1v1h-1zM295 444h5v1h-5zM301 444h3v1h-3z"/>
<path d="M293 450h3v1h-3zM292 451h1v2h-1zM296 451h1v1h-1zM299 452h3v1h-3zM304 452h1v1h-1zM306 452h2v1h-2zM293 453h2v1h-2zM298 453h1v1h-1zM302 453h1v1h-1zM304 453h2v1h-2zM308 453h1v4h-1zM295 454h1v1h-1zM298 454h5v1h-5zM304 454h1v2h-1zM296 455h1v2h-1zM298 455h1v2h-1zM292 456h1v1h-1zM304 456h2v1h-2zM293 457h3v1h-3zM299 457h3v1h-3zM304 457h1v3h-1zM306 457h2v1h-2z"/>
<path d="M377 437h1v1h-1zM383 437h1v1h-1zM376 438h1v1h-1zM378 438h1v1h-1zM382 438h2v1h-2zM375 439h1v4h-1zM379 439h1v4h-1zM381 439h1v1h-1zM383 439h1v5h-1zM376 443h1v1h-1zM378 443h1v1h-1zM377 444h1v1h-1zM381 444h5v1h-5z"/>
<path d="M373 450h3v1h-3zM385 450h1v2h-1zM372 451h1v6h-1zM376 451h1v6h-1zM379 452h3v1h-3zM384 452h4v1h-4zM378 453h1v4h-1zM382 453h1v1h-1zM385 453h1v4h-1zM382 456h1v1h-1zM388 456h1v1h-1zM373 457h3v1h-3zM379 457h3v1h-3zM386 457h2v1h-2z"/>
<path d="M457 437h1v1h-1zM462 437h3v1h-3zM456 438h1v1h-1zM458 438h1v1h-1zM461 438h1v1h-1zM465 438h1v2h-1zM455 439h1v4h-1zM459 439h1v4h-1zM463 440h2v1h-2zM465 441h1v3h-1zM456 443h1v1h-1zM458 443h1v1h-1zM461 443h1v1h-1zM457 444h1v1h-1zM462 444h3v1h-3z"/>
<path d="M453 450h3v1h-3zM465 450h1v2h-1zM452 451h1v6h-1zM456 451h1v6h-1zM459 452h3v1h-3zM464 452h4v1h-4zM458 453h1v4h-1zM462 453h1v1h-1zM465 453h1v4h-1zM462 456h1v1h-1zM468 456h1v1h-1zM453 457h3v1h-3zM459 457h3v1h-3zM466 457h2v1h-2z"/>
<path d="M537 437h1v1h-1zM541 437h5v1h-5zM536 438h1v1h-1zM538 438h1v1h-1zM541 438h1v1h-1zM535 439h1v4h-1zM539 439h1v4h-1zM541 439h4v1h-4zM541 440h1v1h-1zM545 440h1v4h-1zM536 443h1v1h-1zM538 443h1v1h-1zM541 443h1v1h-1zM537 444h1v1h-1zM542 444h3v1h-3z"/>
<path d="M533 450h3v1h-3zM545 450h1v2h-1zM532 451h1v6h-1zM536 451h1v6h-1zM539 452h3v1h-3zM544 452h4v1h-4zM538 453h1v4h-1zM542 453h1v1h-1zM545 453h1v4h-1zM542 456h1v1h-1zM548 456h1v1h-1zM533 457h3v1h-3zM539 457h3v1h-3zM546 457h2v1h-2z"/>
<path d="M617 437h1v1h-1zM621 437h5v1h-5zM616 438h1v1h-1zM618 438h1v1h-1zM625 438h1v1h-1zM615 439h1v4h-1zM619 439h1v4h-1zM624 439h1v2h-1zM623 441h1v2h-1zM616 443h1v1h-1zM618 443h1v1h-1zM622 443h1v2h-1zM617 444h1v1h-1z"/>
<path d="M613 450h3v1h-3zM625 450h1v2h-1zM612 451h1v6h-1zM616 451h1v6h-1zM619 452h3v1h-3zM624 452h4v1h-4zM618 453h1v4h-1zM622 453h1v1h-1zM625 453h1v4h-1zM622 456h1v1h-1zM628 456h1v1h-1zM613 457h3v1h-3zM619 457h3v1h-3zM626 457h2v1h-2z"/>
<path d="M296 469h4v1h-4zM309 469h1v2h-1zM324 469h1v2h-1zM326 469h5v1h-5zM334 469h1v1h-1zM359 469h1v1h-1zM362 469h1v7h-1zM366 469h1v7h-1zM368 469h5v1h-5zM375 469h3v1h-3zM381 469h1v1h-1zM296 470h1v6h-1zM300 470h1v6h-1zM328 470h1v7h-1zM358 470h1v1h-1zM370 470h1v7h-1zM374 470h1v6h-1zM378 470h1v1h-1zM382 470h1v1h-1zM303 471h3v1h-3zM308 471h4v1h-4zM315 471h3v1h-3zM323 471h1v2h-1zM333 471h2v1h-2zM338 471h2v1h-2zM341 471h1v1h-1zM345 471h3v1h-3zM357 471h1v4h-1zM383 471h1v4h-1zM306 472h1v1h-1zM309 472h1v4h-1zM314 472h1v1h-1zM318 472h1v1h-1zM334 472h1v4h-1zM338 472h1v5h-1zM340 472h1v4h-1zM342 472h1v5h-1zM344 472h1v1h-1zM348 472h1v1h-1zM303 473h4v1h-4zM314 473h5v1h-5zM322 473h1v1h-1zM344 473h5v1h-5zM302 474h1v2h-1zM306 474h1v1h-1zM314 474h1v2h-1zM321 474h1v2h-1zM344 474h1v2h-1zM305 475h2v1h-2zM312 475h1v1h-1zM358 475h1v1h-1zM378 475h1v1h-1zM382 475h1v1h-1zM296 476h4v1h-4zM303 476h2v1h-2zM306 476h1v1h-1zM310 476h2v1h-2zM315 476h3v1h-3zM320 476h1v2h-1zM333 476h3v1h-3zM345 476h3v1h-3zM359 476h1v1h-1zM363 476h3v1h-3zM375 476h3v1h-3zM381 476h1v1h-1z"/>
<path d="M12 214h1v1h-1zM15 214h1v1h-1zM11 215h1v3h-1zM14 215h1v1h-1zM16 215h1v3h-1zM13 216h1v2h-1zM12 218h1v1h-1zM15 218h1v1h-1zM15 220h1v1h-1zM11 221h1v2h-1zM16 221h1v2h-1zM9 223h7v1h-7zM11 224h1v1h-1zM12 226h4v1h-4zM11 227h1v3h-1zM16 227h1v3h-1zM12 230h4v1h-4zM16 233h1v1h-1zM9 234h8v1h-8zM9 235h1v1h-1zM16 235h1v1h-1zM16 239h1v1h-1zM9 240h8v1h-8zM9 241h1v1h-1zM16 241h1v1h-1zM12 244h5v1h-5zM11 245h1v3h-1zM13 245h1v3h-1zM15 245h1v1h-1zM16 246h1v2h-1zM14 248h2v1h-2zM10 250h2v1h-2zM13 250h3v1h-3zM9 251h1v3h-1zM12 251h1v3h-1zM16 251h1v3h-1zM9 254h8v1h-8z"/>
<path d="M67 45h4v1h-4zM82 45h1v1h-1zM98 45h1v2h-1zM113 45h1v3h-1zM121 45h4v1h-4zM134 45h2v1h-2zM140 45h2v1h-2zM152 45h1v2h-1zM67 46h1v3h-1zM71 46h1v3h-1zM121 46h1v2h-1zM125 46h1v2h-1zM135 46h1v6h-1zM141 46h1v6h-1zM74 47h3v1h-3zM81 47h2v1h-2zM86 47h3v1h-3zM92 47h3v1h-3zM97 47h4v1h-4zM104 47h3v1h-3zM110 47h2v1h-2zM128 47h3v1h-3zM146 47h3v1h-3zM151 47h4v1h-4zM158 47h3v1h-3zM73 48h1v1h-1zM77 48h1v1h-1zM82 48h1v6h-1zM85 48h1v1h-1zM89 48h1v1h-1zM91 48h1v4h-1zM95 48h1v1h-1zM98 48h1v4h-1zM103 48h1v1h-1zM107 48h1v1h-1zM109 48h1v4h-1zM112 48h2v1h-2zM121 48h4v1h-4zM131 48h1v1h-1zM145 48h1v4h-1zM149 48h1v4h-1zM152 48h1v4h-1zM157 48h1v1h-1zM161 48h1v1h-1zM67 49h4v1h-4zM73 49h5v1h-5zM85 49h5v1h-5zM103 49h5v1h-5zM113 49h1v2h-1zM121 49h1v3h-1zM125 49h1v3h-1zM128 49h4v1h-4zM158 49h2v1h-2zM67 50h1v3h-1zM69 50h1v1h-1zM73 50h1v2h-1zM85 50h1v2h-1zM103 50h1v2h-1zM127 50h1v2h-1zM131 50h1v1h-1zM160 50h1v1h-1zM70 51h1v1h-1zM95 51h1v1h-1zM101 51h1v1h-1zM112 51h2v1h-2zM130 51h2v1h-2zM155 51h1v1h-1zM157 51h1v1h-1zM161 51h1v1h-1zM71 52h1v1h-1zM74 52h3v1h-3zM79 52h1v2h-1zM86 52h3v1h-3zM92 52h3v1h-3zM99 52h2v1h-2zM104 52h3v1h-3zM110 52h2v1h-2zM113 52h1v1h-1zM121 52h4v1h-4zM128 52h2v1h-2zM131 52h1v1h-1zM134 52h3v1h-3zM140 52h3v1h-3zM146 52h3v1h-3zM153 52h2v1h-2zM158 52h3v1h-3zM80 54h2v1h-2z"/>
<path d="M85 58h1v3h-1zM89 58h1v3h-1zM98 58h1v2h-1zM115 58h5v1h-5zM128 58h2v1h-2zM134 58h2v1h-2zM141 58h1v1h-1zM155 58h1v3h-1zM117 59h1v7h-1zM129 59h1v6h-1zM135 59h1v6h-1zM92 60h3v1h-3zM97 60h4v1h-4zM104 60h3v1h-3zM122 60h3v1h-3zM140 60h2v1h-2zM146 60h3v1h-3zM152 60h2v1h-2zM86 61h1v3h-1zM88 61h1v3h-1zM91 61h1v4h-1zM95 61h1v4h-1zM98 61h1v4h-1zM103 61h1v1h-1zM107 61h1v1h-1zM125 61h1v1h-1zM141 61h1v4h-1zM145 61h1v1h-1zM149 61h1v1h-1zM151 61h1v4h-1zM154 61h2v1h-2zM103 62h5v1h-5zM122 62h4v1h-4zM145 62h5v1h-5zM155 62h1v2h-1zM103 63h1v2h-1zM121 63h1v2h-1zM125 63h1v1h-1zM145 63h1v2h-1zM87 64h1v2h-1zM101 64h1v1h-1zM124 64h2v1h-2zM154 64h2v1h-2zM159 64h2v1h-2zM92 65h3v1h-3zM99 65h2v1h-2zM104 65h3v1h-3zM122 65h2v1h-2zM125 65h1v1h-1zM128 65h3v1h-3zM134 65h3v1h-3zM140 65h3v1h-3zM146 65h3v1h-3zM152 65h2v1h-2zM155 65h1v1h-1zM159 65h1v1h-1zM158 66h1v1h-1z"/>
<path d="M67 71h4v1h-4zM93 71h1v1h-1zM113 71h1v3h-1zM121 71h4v1h-4zM134 71h2v1h-2zM140 71h2v1h-2zM152 71h1v2h-1zM67 72h1v3h-1zM71 72h1v3h-1zM121 72h1v2h-1zM125 72h1v2h-1zM135 72h1v6h-1zM141 72h1v6h-1zM74 73h3v1h-3zM80 73h3v1h-3zM86 73h3v1h-3zM92 73h2v1h-2zM97 73h1v3h-1zM101 73h1v3h-1zM104 73h3v1h-3zM110 73h2v1h-2zM128 73h3v1h-3zM146 73h3v1h-3zM151 73h4v1h-4zM158 73h3v1h-3zM73 74h1v1h-1zM77 74h1v1h-1zM79 74h1v4h-1zM83 74h1v1h-1zM85 74h1v1h-1zM89 74h1v1h-1zM93 74h1v4h-1zM103 74h1v1h-1zM107 74h1v1h-1zM109 74h1v4h-1zM112 74h2v1h-2zM121 74h4v1h-4zM131 74h1v1h-1zM145 74h1v4h-1zM149 74h1v4h-1zM152 74h1v4h-1zM157 74h1v1h-1zM161 74h1v1h-1zM67 75h4v1h-4zM73 75h5v1h-5zM85 75h5v1h-5zM103 75h5v1h-5zM113 75h1v2h-1zM121 75h1v3h-1zM125 75h1v3h-1zM128 75h4v1h-4zM158 75h2v1h-2zM67 76h1v3h-1zM69 76h1v1h-1zM73 76h1v2h-1zM85 76h1v2h-1zM98 76h1v2h-1zM100 76h1v2h-1zM103 76h1v2h-1zM127 76h1v2h-1zM131 76h1v1h-1zM160 76h1v1h-1zM70 77h1v1h-1zM83 77h1v1h-1zM112 77h2v1h-2zM130 77h2v1h-2zM155 77h1v1h-1zM157 77h1v1h-1zM161 77h1v1h-1zM71 78h1v1h-1zM74 78h3v1h-3zM80 78h3v1h-3zM86 78h3v1h-3zM92 78h3v1h-3zM99 78h1v1h-1zM104 78h3v1h-3zM110 78h2v1h-2zM113 78h1v1h-1zM121 78h4v1h-4zM128 78h2v1h-2zM131 78h1v1h-1zM134 78h3v1h-3zM140 78h3v1h-3zM146 78h3v1h-3zM153 78h2v1h-2zM158 78h3v1h-3z"/>
<path d="M69 84h1v1h-1zM79 84h1v4h-1zM104 84h2v1h-2zM119 84h1v3h-1zM152 84h1v2h-1zM68 85h1v1h-1zM70 85h1v1h-1zM105 85h1v6h-1zM125 85h1v1h-1zM67 86h1v2h-1zM71 86h1v2h-1zM74 86h3v1h-3zM82 86h1v1h-1zM85 86h1v1h-1zM87 86h2v1h-2zM92 86h3v1h-3zM97 86h1v5h-1zM101 86h1v5h-1zM110 86h3v1h-3zM116 86h2v1h-2zM122 86h3v1h-3zM128 86h3v1h-3zM133 86h2v1h-2zM136 86h1v1h-1zM140 86h3v1h-3zM145 86h1v1h-1zM147 86h2v1h-2zM151 86h4v1h-4zM158 86h3v1h-3zM73 87h1v4h-1zM77 87h1v1h-1zM81 87h1v1h-1zM85 87h2v1h-2zM89 87h1v5h-1zM91 87h1v4h-1zM95 87h1v4h-1zM109 87h1v1h-1zM113 87h1v1h-1zM115 87h1v4h-1zM118 87h2v1h-2zM121 87h1v2h-1zM125 87h1v2h-1zM127 87h1v1h-1zM131 87h1v1h-1zM133 87h1v5h-1zM135 87h1v4h-1zM137 87h1v5h-1zM139 87h1v1h-1zM143 87h1v1h-1zM145 87h2v1h-2zM149 87h1v5h-1zM152 87h1v4h-1zM157 87h1v1h-1zM161 87h1v1h-1zM67 88h5v1h-5zM79 88h2v1h-2zM85 88h1v4h-1zM99 88h1v3h-1zM109 88h5v1h-5zM119 88h1v2h-1zM127 88h5v1h-5zM139 88h5v1h-5zM145 88h1v4h-1zM158 88h2v1h-2zM67 89h1v3h-1zM71 89h1v3h-1zM79 89h1v3h-1zM81 89h1v1h-1zM109 89h1v2h-1zM122 89h3v1h-3zM127 89h1v2h-1zM139 89h1v2h-1zM160 89h1v1h-1zM77 90h1v1h-1zM82 90h1v1h-1zM118 90h2v1h-2zM121 90h1v1h-1zM155 90h1v1h-1zM157 90h1v1h-1zM161 90h1v1h-1zM74 91h3v1h-3zM83 91h1v1h-1zM92 91h3v1h-3zM98 91h1v1h-1zM100 91h1v1h-1zM104 91h3v1h-3zM110 91h3v1h-3zM116 91h2v1h-2zM119 91h1v1h-1zM122 91h3v1h-3zM128 91h3v1h-3zM140 91h3v1h-3zM153 91h2v1h-2zM158 91h3v1h-3zM121 92h1v1h-1zM125 92h1v1h-1zM122 93h3v1h-3z"/>
</g>
<g id="key">
<path fill="#ff0000" d="M183 45h1v3h-1zM169 48h29v1h-29zM183 49h1v3h-1z"/>
<path fill="#00c000" d="M180 58h1v1h-1zM186 58h1v1h-1zM181 59h1v1h-1zM185 59h1v1h-1zM182 60h1v1h-1zM184 60h1v1h-1zM169 61h29v1h-29zM182 62h1v1h-1zM184 62h1v1h-1zM181 63h1v1h-1zM185 63h1v1h-1zM180 64h1v1h-1zM186 64h1v1h-1z"/>
<path fill="#0080ff" d="M180 71h1v1h-1zM183 71h1v2h-1zM186 71h1v1h-1zM181 72h1v1h-1zM185 72h1v1h-1zM182 73h3v1h-3zM169 74h29v1h-29zM182 75h3v1h-3zM181 76h1v1h-1zM183 76h1v2h-1zM185 76h1v1h-1zM180 77h1v1h-1zM186 77h1v1h-1z"/>
<path fill="#c000ff" d="M169 87h29v1h-29z"/>
</g>
<g id="series">
<path id="rejected" fill="#ff0000" d="M530 414h1v3h-1zM550 414h1v3h-1zM566 414h1v3h-1zM516 415h1v3h-1zM525 415h1v3h-1zM476 416h1v3h-1zM508 416h1v3h-1zM435 417h2v3h-2zM460 417h1v3h-1zM527 417h43v1h-43zM421 418h1v3h-1zM423 418h1v3h-1zM431 418h1v2h-1zM512 418h17v1h-17zM530 418h1v3h-1zM550 418h1v3h-1zM566 418h1v3h-1zM408 419h1v3h-1zM410 419h1v3h-1zM468 419h44v1h-44zM516 419h1v3h-1zM525 419h1v3h-1zM401 420h1v3h-1zM405 420h2v2h-2zM431 420h37v1h-37zM476 420h1v3h-1zM508 420h1v3h-1zM183 421h1v3h-1zM185 421h1v3h-1zM416 421h21v1h-21zM460 421h1v3h-1zM165 422h1v3h-1zM168 422h1v3h-1zM405 422h11v1h-11zM421 422h1v3h-1zM423 422h1v3h-1zM431 422h1v3h-1zM435 422h2v2h-2zM72 423h1v1h-1zM85 423h1v3h-1zM293 423h118v1h-118zM71 424h2v2h-2zM176 424h117v1h-117zM401 424h1v3h-1zM405 424h2v3h-2zM408 424h1v2h-1zM410 424h1v2h-1zM125 425h51v1h-51zM183 425h1v3h-1zM185 425h1v3h-1zM69 426h56v1h-56zM165 426h1v3h-1zM168 426h1v3h-1zM68 427h7v1h-7zM85 427h1v3h-1zM71 428h2v2h-2zM71 430h1v1h-1z"/>
<path id="tallied" fill="#00c000" d="M616 337h1v1h-1zM622 337h1v1h-1zM613 338h1v1h-1zM617 338h3v1h-3zM621 338h1v1h-1zM624 338h1v1h-1zM605 339h1v1h-1zM611 339h1v1h-1zM614 339h1v1h-1zM618 339h3v1h-3zM623 339h1v1h-1zM575 340h1v1h-1zM581 340h1v1h-1zM606 340h1v1h-1zM610 340h1v1h-1zM615 340h1v1h-1zM617 340h4v1h-4zM622 340h1v1h-1zM533 341h1v1h-1zM539 341h1v1h-1zM545 341h1v1h-1zM551 341h1v1h-1zM565 341h1v1h-1zM571 341h1v1h-1zM576 341h1v1h-1zM580 341h1v1h-1zM607 341h1v1h-1zM609 341h1v1h-1zM612 341h7v1h-7zM620 341h2v1h-2zM534 342h1v1h-1zM538 342h1v1h-1zM540 342h1v1h-1zM544 342h1v1h-1zM546 342h1v1h-1zM550 342h1v1h-1zM566 342h1v1h-1zM570 342h1v1h-1zM577 342h1v1h-1zM579 342h1v1h-1zM593 342h19v1h-19zM615 342h1v1h-1zM617 342h1v1h-1zM620 342h3v1h-3zM526 343h1v1h-1zM532 343h1v1h-1zM535 343h1v1h-1zM537 343h1v1h-1zM541 343h1v1h-1zM543 343h1v1h-1zM547 343h1v1h-1zM549 343h1v1h-1zM567 343h1v1h-1zM569 343h1v1h-1zM573 343h20v1h-20zM607 343h1v1h-1zM609 343h1v1h-1zM614 343h1v1h-1zM616 343h1v1h-1zM618 343h2v2h-2zM622 343h2v1h-2zM501 344h1v1h-1zM507 344h1v1h-1zM513 344h1v1h-1zM521 344h1v1h-1zM527 344h1v1h-1zM531 344h1v1h-1zM535 344h38v1h-38zM577 344h1v1h-1zM579 344h1v1h-1zM606 344h1v1h-1zM610 344h1v1h-1zM613 344h1v1h-1zM624 344h1v1h-1zM487 345h1v1h-1zM491 345h1v1h-1zM493 345h1v1h-1zM495 345h1v1h-1zM497 345h1v1h-1zM501 345h2v1h-2zM506 345h1v1h-1zM508 345h1v1h-1zM512 345h1v1h-1zM522 345h1v1h-1zM526 345h1v1h-1zM528 345h1v1h-1zM530 345h6v1h-6zM537 345h1v1h-1zM541 345h1v1h-1zM543 345h1v1h-1zM547 345h1v1h-1zM549 345h1v1h-1zM567 345h1v1h-1zM569 345h1v1h-1zM576 345h1v1h-1zM580 345h1v1h-1zM605 345h1v1h-1zM611 345h1v1h-1zM481 346h1v1h-1zM484 346h1v1h-1zM487 346h2v1h-2zM490 346h1v1h-1zM492 346h1v1h-1zM496 346h1v1h-1zM500 346h1v1h-1zM503 346h1v1h-1zM505 346h1v1h-1zM509 346h1v1h-1zM511 346h1v1h-1zM523 346h1v1h-1zM525 346h1v1h-1zM527 346h4v1h-4zM534 346h1v1h-1zM538 346h1v1h-1zM540 346h1v1h-1zM544 346h1v1h-1zM546 346h1v1h-1zM550 346h1v1h-1zM566 346h1v1h-1zM570 346h1v1h-1zM575 346h1v1h-1zM581 346h1v1h-1zM475 347h1v1h-1zM479 347h1v1h-1zM481 347h2v1h-2zM485 347h2v1h-2zM489 347h1v1h-1zM491 347h1v1h-1zM493 347h1v1h-1zM495 347h1v1h-1zM497 347h1v1h-1zM499 347h1v1h-1zM501 347h26v1h-26zM528 347h1v1h-1zM530 347h1v1h-1zM533 347h1v1h-1zM539 347h1v1h-1zM545 347h1v1h-1zM551 347h1v1h-1zM565 347h1v1h-1zM571 347h1v1h-1zM463 348h1v1h-1zM469 348h1v1h-1zM471 348h1v1h-1zM476 348h2v2h-2zM480 348h1v1h-1zM483 348h4v1h-4zM488 348h13v1h-13zM503 348h1v1h-1zM505 348h1v1h-1zM509 348h1v1h-1zM511 348h1v1h-1zM523 348h1v1h-1zM525 348h1v1h-1zM527 348h1v1h-1zM531 348h1v1h-1zM447 349h2v1h-2zM450 349h2v1h-2zM453 349h2v1h-2zM456 349h2v1h-2zM459 349h1v1h-1zM461 349h2v1h-2zM464 349h2v1h-2zM467 349h2v1h-2zM472 349h1v1h-1zM479 349h1v1h-1zM481 349h1v1h-1zM483 349h7v1h-7zM491 349h1v1h-1zM493 349h1v1h-1zM495 349h1v1h-1zM497 349h1v1h-1zM499 349h1v1h-1zM502 349h1v1h-1zM506 349h1v1h-1zM508 349h1v1h-1zM512 349h1v1h-1zM522 349h1v1h-1zM526 349h1v1h-1zM532 349h1v1h-1zM444 350h2v1h-2zM448 350h11v1h-11zM460 350h8v1h-8zM473 350h1v1h-1zM475 350h9v1h-9zM485 350h2v1h-2zM488 350h1v1h-1zM492 350h1v1h-1zM496 350h1v1h-1zM500 350h2v1h-2zM507 350h1v1h-1zM513 350h1v1h-1zM521 350h1v1h-1zM527 350h1v1h-1zM438 351h1v1h-1zM440 351h3v1h-3zM444 351h12v1h-12zM457 351h2v1h-2zM460 351h2v1h-2zM463 351h13v1h-13zM477 351h1v1h-1zM479 351h1v1h-1zM481 351h3v1h-3zM485 351h3v1h-3zM489 351h1v1h-1zM491 351h1v1h-1zM493 351h1v1h-1zM495 351h1v1h-1zM497 351h1v1h-1zM501 351h1v1h-1zM433 352h1v1h-1zM435 352h2v1h-2zM439 352h1v1h-1zM441 352h3v1h-3zM445 352h21v1h-21zM467 352h1v1h-1zM473 352h1v1h-1zM475 352h2v2h-2zM480 352h2v1h-2zM484 352h1v1h-1zM487 352h1v1h-1zM490 352h1v1h-1zM431 353h2v1h-2zM434 353h1v1h-1zM436 353h3v1h-3zM440 353h16v1h-16zM457 353h2v1h-2zM460 353h2v1h-2zM463 353h4v1h-4zM468 353h1v1h-1zM472 353h1v1h-1zM479 353h1v1h-1zM481 353h1v1h-1zM485 353h1v1h-1zM428 354h3v1h-3zM432 354h18v1h-18zM451 354h8v1h-8zM460 354h5v1h-5zM466 354h2v1h-2zM469 354h1v1h-1zM471 354h1v1h-1zM477 354h1v1h-1zM425 355h2v1h-2zM429 355h12v1h-12zM442 355h10v1h-10zM453 355h2v1h-2zM456 355h2v1h-2zM459 355h1v1h-1zM461 355h2v1h-2zM465 355h1v1h-1zM467 355h2v1h-2zM424 356h1v1h-1zM426 356h2v1h-2zM430 356h6v1h-6zM437 356h11v1h-11zM450 356h2v1h-2zM422 357h2v1h-2zM425 357h1v1h-1zM427 357h12v1h-12zM440 357h3v1h-3zM444 357h1v1h-1zM446 357h3v1h-3zM421 358h4v1h-4zM426 358h12v1h-12zM439 358h1v1h-1zM441 358h2v1h-2zM419 359h2v1h-2zM422 359h14v1h-14zM437 359h2v1h-2zM417 360h1v1h-1zM420 360h2v1h-2zM423 360h9v1h-9zM434 360h3v1h-3zM415 361h2v1h-2zM418 361h1v1h-1zM421 361h7v1h-7zM429 361h1v1h-1zM431 361h2v1h-2zM413 362h2v1h-2zM416 362h2v1h-2zM419 362h10v1h-10zM430 362h1v1h-1zM411 363h2v1h-2zM414 363h2v1h-2zM417 363h8v1h-8zM426 363h4v1h-4zM407 364h2v1h-2zM410 364h1v1h-1zM412 364h11v1h-11zM424 364h2v1h-2zM427 364h2v1h-2zM404 365h3v1h-3zM408 365h13v1h-13zM422 365h1v1h-1zM425 365h2v1h-2zM402 366h2v1h-2zM405 366h8v1h-8zM414 366h5v1h-5zM420 366h2v1h-2zM423 366h1v1h-1zM399 367h3v1h-3zM403 367h14v1h-14zM418 367h2v1h-2zM421 367h2v1h-2zM398 368h5v1h-5zM404 368h11v1h-11zM416 368h2v1h-2zM419 368h2v1h-2zM396 369h2v1h-2zM399 369h15v1h-15zM415 369h1v1h-1zM417 369h2v1h-2zM394 370h5v1h-5zM400 370h12v1h-12zM413 370h2v1h-2zM416 370h1v1h-1zM392 371h2v1h-2zM395 371h14v1h-14zM410 371h3v1h-3zM390 372h2v1h-2zM393 372h2v1h-2zM396 372h11v1h-11zM408 372h2v1h-2zM391 373h2v1h-2zM394 373h8v1h-8zM403 373h5v1h-5zM387 374h1v1h-1zM392 374h11v1h-11zM404 374h2v1h-2zM372 375h1v1h-1zM378 375h1v1h-1zM388 375h1v1h-1zM392 375h6v1h-6zM399 375h5v1h-5zM335 376h1v1h-1zM337 376h1v1h-1zM341 376h1v1h-1zM343 376h1v1h-1zM373 376h1v1h-1zM377 376h1v1h-1zM389 376h1v1h-1zM391 376h8v1h-8zM400 376h3v1h-3zM252 377h1v1h-1zM258 377h1v1h-1zM289 377h1v1h-1zM295 377h1v1h-1zM298 377h1v1h-1zM304 377h1v1h-1zM336 377h1v1h-1zM338 377h1v1h-1zM340 377h1v1h-1zM342 377h1v1h-1zM374 377h1v1h-1zM376 377h1v1h-1zM383 377h11v1h-11zM395 377h2v1h-2zM398 377h2v1h-2zM245 378h1v1h-1zM248 378h1v1h-1zM251 378h1v1h-1zM253 378h2v2h-2zM257 378h1v1h-1zM290 378h1v1h-1zM294 378h1v1h-1zM299 378h1v1h-1zM303 378h1v1h-1zM337 378h1v1h-1zM339 378h1v1h-1zM341 378h1v1h-1zM358 378h25v1h-25zM389 378h3v1h-3zM396 378h2v1h-2zM224 379h1v1h-1zM230 379h1v1h-1zM246 379h1v1h-1zM249 379h2v2h-2zM256 379h1v1h-1zM291 379h1v1h-1zM293 379h1v1h-1zM300 379h1v1h-1zM302 379h1v1h-1zM320 379h38v1h-38zM374 379h1v1h-1zM376 379h1v1h-1zM388 379h1v1h-1zM392 379h1v1h-1zM206 380h1v1h-1zM210 380h1v1h-1zM212 380h1v1h-1zM216 380h1v1h-1zM222 380h1v1h-1zM225 380h1v1h-1zM229 380h1v1h-1zM247 380h1v1h-1zM252 380h68v1h-68zM337 380h1v1h-1zM339 380h1v1h-1zM341 380h1v1h-1zM373 380h1v1h-1zM377 380h1v1h-1zM387 380h1v1h-1zM393 380h1v1h-1zM195 381h1v1h-1zM198 381h1v1h-1zM201 381h2v1h-2zM204 381h1v1h-1zM207 381h2v2h-2zM211 381h1v1h-1zM215 381h1v1h-1zM217 381h1v1h-1zM221 381h1v1h-1zM226 381h1v1h-1zM228 381h1v1h-1zM238 381h15v1h-15zM254 381h1v1h-1zM256 381h1v1h-1zM291 381h1v1h-1zM293 381h1v1h-1zM300 381h1v1h-1zM302 381h1v1h-1zM336 381h1v1h-1zM338 381h1v1h-1zM340 381h1v1h-1zM342 381h1v1h-1zM372 381h1v1h-1zM378 381h1v1h-1zM189 382h1v1h-1zM192 382h1v1h-1zM195 382h2v1h-2zM198 382h3v1h-3zM203 382h1v1h-1zM210 382h1v1h-1zM212 382h1v1h-1zM214 382h1v1h-1zM218 382h1v1h-1zM220 382h1v1h-1zM223 382h15v1h-15zM247 382h1v1h-1zM249 382h2v2h-2zM252 382h2v2h-2zM257 382h1v1h-1zM290 382h1v1h-1zM294 382h1v1h-1zM299 382h1v1h-1zM303 382h1v1h-1zM335 382h1v1h-1zM337 382h1v1h-1zM341 382h1v1h-1zM343 382h1v1h-1zM178 383h1v1h-1zM183 383h2v2h-2zM186 383h1v1h-1zM189 383h2v1h-2zM192 383h3v1h-3zM197 383h1v1h-1zM199 383h2v1h-2zM202 383h1v1h-1zM204 383h1v1h-1zM206 383h17v1h-17zM226 383h1v1h-1zM228 383h1v1h-1zM246 383h1v1h-1zM258 383h1v1h-1zM289 383h1v1h-1zM295 383h1v1h-1zM298 383h1v1h-1zM304 383h1v1h-1zM169 384h1v1h-1zM171 384h1v1h-1zM173 384h1v1h-1zM175 384h1v1h-1zM177 384h1v1h-1zM179 384h1v1h-1zM187 384h2v2h-2zM191 384h1v1h-1zM193 384h2v1h-2zM196 384h11v1h-11zM208 384h1v1h-1zM210 384h1v1h-1zM212 384h1v1h-1zM214 384h1v1h-1zM218 384h1v1h-1zM220 384h1v1h-1zM225 384h1v1h-1zM229 384h1v1h-1zM245 384h1v1h-1zM248 384h1v1h-1zM251 384h1v1h-1zM254 384h1v1h-1zM166 385h3v1h-3zM170 385h1v1h-1zM172 385h3v1h-3zM176 385h1v1h-1zM178 385h1v1h-1zM180 385h1v1h-1zM182 385h1v1h-1zM185 385h1v1h-1zM190 385h8v1h-8zM199 385h2v2h-2zM202 385h1v1h-1zM204 385h1v1h-1zM206 385h2v2h-2zM211 385h1v1h-1zM215 385h1v1h-1zM217 385h1v1h-1zM221 385h1v1h-1zM224 385h1v1h-1zM230 385h1v1h-1zM164 386h2v1h-2zM167 386h7v1h-7zM175 386h1v1h-1zM177 386h1v1h-1zM179 386h13v1h-13zM193 386h2v1h-2zM196 386h1v1h-1zM203 386h1v1h-1zM210 386h1v1h-1zM212 386h1v1h-1zM216 386h1v1h-1zM222 386h1v1h-1zM142 387h1v1h-1zM148 387h1v1h-1zM155 387h2v1h-2zM159 387h1v1h-1zM161 387h2v1h-2zM165 387h14v1h-14zM180 387h1v1h-1zM182 387h1v1h-1zM185 387h1v1h-1zM187 387h2v1h-2zM190 387h1v1h-1zM193 387h3v1h-3zM197 387h2v1h-2zM201 387h2v1h-2zM204 387h1v1h-1zM208 387h1v1h-1zM134 388h1v1h-1zM138 388h1v1h-1zM140 388h1v1h-1zM143 388h2v2h-2zM147 388h1v1h-1zM156 388h2v1h-2zM160 388h3v1h-3zM164 388h1v1h-1zM166 388h6v1h-6zM173 388h1v1h-1zM175 388h1v1h-1zM177 388h1v1h-1zM179 388h1v1h-1zM183 388h2v2h-2zM187 388h3v1h-3zM191 388h2v1h-2zM195 388h1v1h-1zM198 388h1v1h-1zM128 389h1v1h-1zM131 389h1v1h-1zM134 389h2v1h-2zM137 389h1v1h-1zM139 389h1v1h-1zM146 389h1v1h-1zM157 389h5v1h-5zM163 389h1v1h-1zM165 389h8v1h-8zM174 389h1v1h-1zM176 389h1v1h-1zM178 389h1v1h-1zM186 389h1v1h-1zM189 389h1v1h-1zM192 389h1v1h-1zM125 390h1v1h-1zM129 390h1v1h-1zM131 390h3v1h-3zM136 390h1v1h-1zM138 390h1v1h-1zM140 390h1v1h-1zM142 390h28v1h-28zM171 390h3v1h-3zM175 390h1v1h-1zM177 390h1v1h-1zM179 390h1v1h-1zM122 391h1v1h-1zM126 391h1v1h-1zM128 391h1v1h-1zM130 391h1v1h-1zM132 391h2v1h-2zM135 391h8v1h-8zM144 391h1v1h-1zM146 391h1v1h-1zM157 391h5v1h-5zM163 391h1v1h-1zM165 391h6v1h-6zM172 391h3v1h-3zM119 392h1v1h-1zM123 392h1v1h-1zM125 392h1v1h-1zM127 392h1v1h-1zM129 392h8v1h-8zM138 392h1v1h-1zM140 392h1v1h-1zM142 392h2v2h-2zM147 392h1v1h-1zM156 392h2v1h-2zM160 392h3v1h-3zM164 392h3v1h-3zM170 392h2v1h-2zM116 393h1v1h-1zM120 393h1v1h-1zM122 393h1v1h-1zM124 393h1v1h-1zM126 393h5v1h-5zM132 393h2v1h-2zM135 393h1v1h-1zM139 393h1v1h-1zM148 393h1v1h-1zM155 393h2v1h-2zM159 393h1v1h-1zM161 393h2v1h-2zM165 393h1v1h-1zM167 393h1v1h-1zM107 394h1v1h-1zM112 394h2v2h-2zM117 394h2v2h-2zM121 394h1v1h-1zM123 394h5v1h-5zM129 394h1v1h-1zM132 394h3v1h-3zM136 394h1v1h-1zM138 394h1v1h-1zM140 394h1v1h-1zM144 394h1v1h-1zM103 395h1v1h-1zM108 395h2v2h-2zM120 395h5v1h-5zM126 395h1v1h-1zM128 395h1v1h-1zM130 395h2v1h-2zM134 395h1v1h-1zM137 395h1v1h-1zM100 396h1v1h-1zM104 396h1v1h-1zM106 396h1v1h-1zM111 396h1v1h-1zM114 396h1v1h-1zM116 396h6v1h-6zM123 396h1v1h-1zM125 396h1v1h-1zM127 396h1v1h-1zM131 396h1v1h-1zM97 397h1v1h-1zM101 397h1v1h-1zM103 397h1v1h-1zM105 397h1v1h-1zM107 397h10v1h-10zM118 397h1v1h-1zM120 397h1v1h-1zM122 397h1v1h-1zM124 397h1v1h-1zM128 397h1v1h-1zM95 398h1v1h-1zM98 398h1v1h-1zM101 398h2v1h-2zM104 398h4v1h-4zM109 398h1v1h-1zM111 398h1v1h-1zM114 398h1v1h-1zM116 398h2v2h-2zM119 398h1v1h-1zM121 398h1v1h-1zM125 398h1v1h-1zM96 399h1v1h-1zM99 399h7v1h-7zM107 399h2v2h-2zM112 399h2v2h-2zM122 399h1v1h-1zM93 400h1v1h-1zM97 400h1v1h-1zM99 400h4v1h-4zM104 400h1v1h-1zM118 400h1v1h-1zM91 401h1v1h-1zM94 401h1v1h-1zM97 401h3v1h-3zM101 401h1v1h-1zM103 401h1v1h-1zM105 401h1v1h-1zM109 401h1v1h-1zM89 402h1v1h-1zM92 402h1v1h-1zM95 402h6v1h-6zM102 402h1v1h-1zM106 402h1v1h-1zM90 403h1v1h-1zM93 403h5v1h-5zM100 403h1v1h-1zM103 403h1v1h-1zM87 404h1v1h-1zM91 404h1v1h-1zM93 404h3v1h-3zM97 404h1v1h-1zM101 404h1v1h-1zM88 405h1v1h-1zM92 405h4v1h-4zM98 405h1v1h-1zM85 406h1v1h-1zM89 406h1v1h-1zM91 406h3v1h-3zM96 406h1v1h-1zM99 406h1v1h-1zM86 407h1v1h-1zM90 407h2v1h-2zM94 407h1v1h-1zM97 407h1v1h-1zM84 408h1v1h-1zM87 408h1v1h-1zM89 408h3v1h-3zM95 408h1v1h-1zM85 409h1v1h-1zM88 409h2v1h-2zM92 409h1v1h-1zM82 410h1v1h-1zM86 410h4v1h-4zM93 410h1v1h-1zM83 411h1v1h-1zM86 411h2v1h-2zM90 411h1v1h-1zM81 412h1v1h-1zM84 412h5v1h-5zM91 412h1v1h-1zM80 413h1v1h-1zM82 413h1v1h-1zM85 413h2v1h-2zM89 413h1v1h-1zM81 414h1v1h-1zM83 414h4v1h-4zM90 414h1v1h-1zM78 415h1v1h-1zM82 415h3v1h-3zM87 415h1v1h-1zM76 416h1v1h-1zM79 416h1v1h-1zM82 416h2v1h-2zM85 416h1v1h-1zM88 416h1v1h-1zM74 417h1v1h-1zM77 417h1v1h-1zM80 417h3v1h-3zM84 417h1v1h-1zM86 417h1v1h-1zM72 418h1v1h-1zM75 418h1v1h-1zM78 418h4v1h-4zM85 418h1v1h-1zM87 418h1v1h-1zM73 419h1v1h-1zM76 419h5v2h-5zM82 419h1v1h-1zM86 419h1v1h-1zM70 420h1v1h-1zM74 420h1v1h-1zM83 420h1v1h-1zM71 421h1v1h-1zM75 421h4v1h-4zM81 421h1v1h-1zM84 421h1v1h-1zM69 422h1v1h-1zM72 422h1v1h-1zM74 422h3v1h-3zM79 422h1v1h-1zM82 422h1v1h-1zM70 423h1v1h-1zM73 423h2v1h-2zM77 423h1v1h-1zM80 423h1v1h-1zM69 424h1v1h-1zM71 424h5v1h-5zM78 424h1v1h-1zM70 425h3v1h-3zM74 425h2v1h-2zM70 426h4v1h-4zM76 426h1v1h-1zM70 427h1v1h-1zM72 427h1v1h-1zM74 427h1v1h-1zM69 428h1v1h-1zM71 428h1v1h-1zM73 428h1v1h-1zM75 428h1v1h-1zM70 429h1v1h-1zM74 429h1v1h-1zM69 430h1v1h-1zM75 430h1v1h-1z"/>
<path id="received" fill="#0080ff" d="M611 328h1v1h-1zM614 328h1v1h-1zM617 328h1v1h-1zM620 328h1v1h-1zM574 329h1v1h-1zM577 329h1v2h-1zM580 329h1v1h-1zM605 329h1v1h-1zM608 329h1v2h-1zM611 329h2v1h-2zM614 329h6v1h-6zM621 329h1v1h-1zM571 330h1v1h-1zM574 330h2v1h-2zM579 330h1v1h-1zM606 330h1v1h-1zM610 330h1v1h-1zM613 330h6v1h-6zM620 330h1v1h-1zM562 331h1v1h-1zM565 331h1v1h-1zM568 331h1v1h-1zM571 331h2v1h-2zM574 331h1v1h-1zM576 331h3v1h-3zM607 331h3v1h-3zM611 331h10v1h-10zM534 332h1v1h-1zM537 332h1v2h-1zM539 332h2v2h-2zM542 332h1v2h-1zM544 332h2v2h-2zM547 332h1v1h-1zM550 332h1v1h-1zM553 332h1v1h-1zM563 332h1v1h-1zM565 332h4v1h-4zM570 332h1v1h-1zM573 332h39v1h-39zM613 332h9v1h-9zM529 333h1v1h-1zM532 333h1v1h-1zM535 333h1v1h-1zM547 333h4v1h-4zM552 333h1v1h-1zM564 333h6v1h-6zM571 333h8v1h-8zM607 333h3v1h-3zM612 333h1v1h-1zM614 333h6v1h-6zM525 334h10v1h-10zM536 334h3v1h-3zM541 334h3v1h-3zM546 334h6v1h-6zM558 334h14v1h-14zM573 334h3v1h-3zM577 334h1v1h-1zM579 334h1v1h-1zM606 334h1v1h-1zM608 334h1v2h-1zM610 334h2v1h-2zM614 334h1v1h-1zM616 334h3v1h-3zM620 334h1v1h-1zM513 335h1v1h-1zM516 335h1v2h-1zM519 335h1v1h-1zM521 335h1v1h-1zM523 335h2v1h-2zM526 335h32v1h-32zM564 335h6v1h-6zM572 335h1v1h-1zM574 335h1v2h-1zM576 335h2v1h-2zM580 335h1v1h-1zM605 335h1v1h-1zM611 335h1v1h-1zM615 335h1v1h-1zM618 335h1v1h-1zM621 335h1v1h-1zM505 336h1v1h-1zM508 336h1v2h-1zM511 336h1v1h-1zM514 336h1v1h-1zM518 336h1v1h-1zM522 336h1v1h-1zM524 336h15v1h-15zM541 336h3v1h-3zM546 336h6v1h-6zM563 336h1v1h-1zM565 336h4v1h-4zM570 336h2v1h-2zM577 336h1v1h-1zM491 337h1v1h-1zM493 337h11v1h-11zM505 337h2v1h-2zM510 337h1v1h-1zM515 337h3v1h-3zM523 337h11v1h-11zM535 337h1v1h-1zM537 337h1v2h-1zM539 337h2v2h-2zM542 337h1v2h-1zM544 337h2v2h-2zM547 337h4v1h-4zM552 337h1v1h-1zM562 337h1v1h-1zM565 337h1v1h-1zM568 337h1v1h-1zM571 337h1v1h-1zM485 338h16v1h-16zM502 338h1v1h-1zM504 338h1v1h-1zM507 338h3v1h-3zM512 338h21v1h-21zM534 338h1v1h-1zM547 338h1v1h-1zM550 338h1v1h-1zM553 338h1v1h-1zM479 339h1v1h-1zM481 339h23v1h-23zM505 339h7v1h-7zM515 339h3v1h-3zM523 339h10v1h-10zM535 339h1v1h-1zM473 340h1v1h-1zM476 340h9v1h-9zM486 340h20v1h-20zM507 340h3v1h-3zM514 340h1v1h-1zM516 340h1v2h-1zM518 340h1v1h-1zM522 340h1v1h-1zM524 340h10v1h-10zM461 341h2v1h-2zM464 341h2v1h-2zM467 341h2v1h-2zM474 341h1v1h-1zM476 341h1v1h-1zM478 341h26v1h-26zM506 341h1v1h-1zM508 341h1v2h-1zM510 341h1v1h-1zM513 341h1v1h-1zM519 341h1v1h-1zM521 341h1v1h-1zM523 341h2v1h-2zM526 341h2v1h-2zM529 341h2v1h-2zM459 342h9v1h-9zM475 342h3v1h-3zM479 342h22v1h-22zM502 342h1v1h-1zM504 342h2v1h-2zM511 342h1v1h-1zM458 343h9v1h-9zM471 343h33v1h-33zM505 343h1v1h-1zM457 344h14v1h-14zM475 344h3v1h-3zM479 344h4v1h-4zM484 344h13v1h-13zM438 345h1v1h-1zM441 345h1v1h-1zM444 345h1v1h-1zM446 345h2v1h-2zM449 345h4v2h-4zM454 345h2v1h-2zM457 345h11v1h-11zM474 345h1v1h-1zM476 345h1v1h-1zM478 345h10v1h-10zM489 345h1v1h-1zM431 346h1v1h-1zM433 346h2v1h-2zM436 346h2v1h-2zM439 346h1v1h-1zM441 346h7v1h-7zM454 346h14v1h-14zM473 346h1v1h-1zM476 346h6v1h-6zM483 346h2v1h-2zM426 347h1v1h-1zM428 347h2v1h-2zM431 347h2v1h-2zM434 347h1v1h-1zM436 347h33v1h-33zM423 348h9v1h-9zM433 348h35v1h-35zM421 349h45v1h-45zM420 350h1v1h-1zM422 350h26v1h-26zM449 350h4v2h-4zM454 350h8v1h-8zM463 350h2v1h-2zM419 351h1v1h-1zM421 351h12v1h-12zM434 351h1v1h-1zM436 351h4v1h-4zM441 351h1v1h-1zM444 351h1v1h-1zM446 351h2v1h-2zM454 351h2v1h-2zM457 351h1v1h-1zM460 351h1v1h-1zM417 352h2v1h-2zM420 352h10v1h-10zM431 352h1v1h-1zM433 352h2v1h-2zM436 352h2v1h-2zM439 352h1v1h-1zM442 352h1v1h-1zM416 353h1v1h-1zM418 353h15v1h-15zM434 353h1v1h-1zM414 354h2v1h-2zM417 354h15v1h-15zM413 355h17v1h-17zM412 356h13v1h-13zM426 356h1v1h-1zM410 357h14v1h-14zM425 357h1v1h-1zM408 358h14v1h-14zM423 358h2v1h-2zM406 359h15v1h-15zM422 359h1v1h-1zM404 360h2v1h-2zM407 360h15v1h-15zM402 361h19v1h-19zM400 362h2v1h-2zM403 362h17v1h-17zM399 363h20v1h-20zM398 364h19v1h-19zM396 365h19v1h-19zM394 366h2v1h-2zM397 366h15v1h-15zM393 367h18v1h-18zM392 368h16v1h-16zM390 369h2v1h-2zM393 369h14v1h-14zM390 370h16v1h-16zM372 371h1v1h-1zM375 371h1v1h-1zM378 371h1v1h-1zM390 371h15v1h-15zM335 372h2v1h-2zM338 372h2v1h-2zM341 372h2v1h-2zM370 372h1v1h-1zM373 372h1v1h-1zM375 372h3v1h-3zM390 372h12v1h-12zM298 373h1v1h-1zM301 373h1v2h-1zM304 373h1v1h-1zM334 373h1v1h-1zM336 373h6v1h-6zM371 373h1v1h-1zM373 373h4v1h-4zM390 373h11v1h-11zM248 374h1v1h-1zM251 374h1v1h-1zM254 374h1v1h-1zM257 374h1v1h-1zM289 374h1v1h-1zM292 374h1v2h-1zM295 374h1v1h-1zM299 374h1v1h-1zM303 374h1v1h-1zM335 374h1v1h-1zM337 374h4v1h-4zM372 374h8v1h-8zM390 374h7v1h-7zM398 374h2v1h-2zM224 375h1v1h-1zM227 375h1v2h-1zM230 375h1v1h-1zM243 375h1v1h-1zM245 375h2v1h-2zM248 375h2v1h-2zM251 375h4v1h-4zM256 375h1v1h-1zM290 375h1v1h-1zM294 375h1v1h-1zM300 375h3v1h-3zM335 375h42v1h-42zM380 375h9v1h-9zM390 375h8v1h-8zM208 376h1v1h-1zM211 376h1v1h-1zM214 376h1v1h-1zM217 376h2v1h-2zM220 376h2v1h-2zM224 376h2v1h-2zM229 376h1v1h-1zM244 376h1v1h-1zM246 376h1v1h-1zM248 376h1v1h-1zM250 376h6v1h-6zM291 376h3v1h-3zM297 376h44v1h-44zM372 376h4v1h-4zM377 376h1v1h-1zM389 376h8v1h-8zM205 377h1v1h-1zM208 377h2v1h-2zM211 377h7v1h-7zM219 377h1v1h-1zM221 377h4v1h-4zM226 377h3v1h-3zM245 377h52v1h-52zM300 377h3v1h-3zM336 377h6v1h-6zM371 377h3v1h-3zM375 377h1v1h-1zM378 377h1v1h-1zM390 377h7v1h-7zM191 378h1v1h-1zM194 378h2v1h-2zM197 378h2v1h-2zM201 378h1v1h-1zM204 378h1v1h-1zM206 378h3v1h-3zM210 378h9v1h-9zM220 378h36v1h-36zM291 378h3v1h-3zM299 378h1v1h-1zM301 378h1v2h-1zM303 378h1v1h-1zM335 378h5v1h-5zM341 378h2v1h-2zM370 378h1v1h-1zM373 378h1v1h-1zM376 378h1v1h-1zM390 378h2v1h-2zM393 378h1v2h-1zM395 378h2v1h-2zM188 379h1v1h-1zM191 379h2v1h-2zM194 379h1v1h-1zM196 379h1v1h-1zM198 379h7v1h-7zM206 379h23v1h-23zM245 379h5v1h-5zM251 379h4v1h-4zM256 379h1v1h-1zM290 379h1v1h-1zM292 379h1v2h-1zM294 379h1v1h-1zM298 379h1v1h-1zM304 379h1v1h-1zM334 379h1v1h-1zM337 379h1v1h-1zM340 379h1v1h-1zM390 379h1v1h-1zM396 379h1v1h-1zM181 380h1v1h-1zM184 380h2v1h-2zM187 380h3v1h-3zM191 380h1v1h-1zM193 380h3v1h-3zM197 380h22v1h-22zM220 380h6v1h-6zM227 380h1v1h-1zM229 380h1v1h-1zM244 380h1v1h-1zM246 380h1v1h-1zM248 380h1v1h-1zM250 380h2v1h-2zM254 380h1v1h-1zM257 380h1v1h-1zM289 380h1v1h-1zM295 380h1v1h-1zM172 381h1v1h-1zM175 381h1v1h-1zM178 381h1v1h-1zM181 381h2v1h-2zM184 381h1v1h-1zM186 381h1v1h-1zM188 381h1v1h-1zM190 381h20v1h-20zM211 381h7v1h-7zM219 381h1v1h-1zM221 381h4v1h-4zM226 381h2v1h-2zM230 381h1v1h-1zM243 381h1v1h-1zM245 381h2v1h-2zM248 381h2v1h-2zM251 381h1v1h-1zM168 382h1v1h-1zM171 382h1v2h-1zM173 382h9v1h-9zM183 382h3v1h-3zM187 382h9v1h-9zM197 382h10v1h-10zM208 382h1v2h-1zM210 382h2v1h-2zM214 382h1v1h-1zM217 382h2v1h-2zM220 382h2v1h-2zM224 382h1v1h-1zM227 382h1v1h-1zM165 383h1v1h-1zM168 383h2v1h-2zM173 383h20v1h-20zM194 383h1v1h-1zM196 383h1v1h-1zM198 383h9v1h-9zM211 383h1v1h-1zM162 384h1v1h-1zM165 384h2v1h-2zM168 384h1v1h-1zM170 384h16v1h-16zM187 384h3v1h-3zM191 384h1v1h-1zM193 384h3v1h-3zM197 384h2v1h-2zM201 384h1v1h-1zM204 384h1v1h-1zM207 384h1v1h-1zM154 385h2v1h-2zM157 385h2v1h-2zM160 385h2v1h-2zM163 385h3v1h-3zM167 385h16v1h-16zM184 385h1v1h-1zM186 385h1v1h-1zM188 385h1v1h-1zM190 385h2v1h-2zM194 385h1v1h-1zM141 386h1v1h-1zM144 386h1v1h-1zM147 386h1v1h-1zM155 386h7v1h-7zM163 386h11v1h-11zM175 386h7v1h-7zM183 386h3v1h-3zM187 386h2v1h-2zM191 386h1v1h-1zM133 387h1v1h-1zM136 387h2v1h-2zM139 387h2v1h-2zM142 387h5v1h-5zM156 387h14v1h-14zM171 387h3v1h-3zM175 387h1v1h-1zM178 387h1v1h-1zM181 387h1v1h-1zM184 387h1v1h-1zM125 388h1v1h-1zM128 388h1v1h-1zM130 388h2v1h-2zM133 388h2v1h-2zM136 388h1v1h-1zM138 388h1v1h-1zM140 388h1v1h-1zM142 388h4v1h-4zM151 388h16v1h-16zM168 388h1v1h-1zM170 388h2v1h-2zM174 388h1v1h-1zM122 389h2v1h-2zM125 389h2v1h-2zM128 389h4v1h-4zM133 389h1v1h-1zM135 389h3v1h-3zM139 389h12v1h-12zM156 389h8v1h-8zM165 389h1v2h-1zM167 389h2v1h-2zM171 389h1v1h-1zM119 390h27v1h-27zM155 390h9v1h-9zM168 390h1v1h-1zM114 391h1v1h-1zM117 391h2v1h-2zM120 391h18v1h-18zM139 391h6v1h-6zM146 391h1v1h-1zM154 391h2v1h-2zM157 391h2v1h-2zM160 391h2v1h-2zM164 391h1v1h-1zM107 392h1v1h-1zM110 392h1v1h-1zM113 392h1v1h-1zM115 392h20v1h-20zM136 392h1v1h-1zM138 392h1v1h-1zM140 392h3v1h-3zM144 392h1v1h-1zM147 392h1v1h-1zM103 393h2v1h-2zM106 393h8v1h-8zM115 393h17v1h-17zM133 393h1v1h-1zM135 393h3v1h-3zM139 393h2v1h-2zM142 393h2v1h-2zM145 393h1v1h-1zM99 394h30v1h-30zM130 394h2v1h-2zM133 394h2v1h-2zM136 394h1v1h-1zM98 395h1v1h-1zM100 395h27v1h-27zM128 395h2v1h-2zM95 396h21v1h-21zM117 396h11v1h-11zM94 397h22v1h-22zM117 397h2v1h-2zM120 397h2v1h-2zM123 397h2v1h-2zM92 398h2v1h-2zM95 398h17v1h-17zM113 398h1v1h-1zM116 398h1v1h-1zM91 399h17v1h-17zM109 399h2v1h-2zM112 399h1v1h-1zM90 400h18v1h-18zM88 401h2v1h-2zM91 401h12v1h-12zM104 401h1v1h-1zM87 402h17v1h-17zM86 403h13v1h-13zM100 403h2v1h-2zM85 404h15v1h-15zM84 405h15v1h-15zM84 406h11v1h-11zM96 406h2v1h-2zM83 407h1v1h-1zM85 407h11v1h-11zM82 408h1v1h-1zM84 408h11v1h-11zM81 409h13v1h-13zM80 410h13v1h-13zM80 411h12v1h-12zM79 412h10v1h-10zM90 412h1v1h-1zM79 413h9v1h-9zM89 413h1v1h-1zM78 414h11v1h-11zM77 415h12v1h-12zM74 416h1v1h-1zM76 416h12v1h-12zM72 417h2v1h-2zM75 417h12v1h-12zM71 418h16v1h-16zM70 419h16v1h-16zM69 420h17v1h-17zM68 421h1v1h-1zM70 421h15v1h-15zM67 422h1v1h-1zM69 422h12v1h-12zM82 422h2v1h-2zM67 423h13v1h-13zM67 424h12v1h-12zM67 425h11v1h-11zM67 426h10v1h-10zM67 427h9v1h-9zM67 428h8v1h-8zM76 428h1v1h-1zM67 429h4v1h-4zM72 429h4v1h-4zM67 430h1v1h-1zM69 430h2v1h-2zM72 430h2v1h-2zM75 430h1v1h-1z"/>
<path id="acks" fill="#c000ff" d="M618 342h3v1h-3zM612 343h6v1h-6zM572 344h40v1h-40zM544 345h28v1h-28zM534 346h10v1h-10zM528 347h6v1h-6zM501 348h27v1h-27zM489 349h12v1h-12zM485 350h4v1h-4zM476 351h9v1h-9zM463 352h13v1h-13zM462 353h1v1h-1zM456 354h7v1h-7zM447 355h9v1h-9zM443 356h4v1h-4zM433 357h10v1h-10zM428 358h5v1h-5zM427 359h1v2h-1zM426 361h1v2h-1zM424 363h2v1h-2zM423 364h1v1h-1zM421 365h2v1h-2zM418 366h3v1h-3zM414 367h4v1h-4zM413 368h1v1h-1zM412 369h2v1h-2zM407 370h5v1h-5zM405 371h2v1h-2zM404 372h1v1h-1zM402 373h2v1h-2zM400 374h2v1h-2zM397 375h3v1h-3zM394 376h3v1h-3zM393 377h1v1h-1zM385 378h8v1h-8zM376 379h9v1h-9zM320 380h56v1h-56zM253 381h67v1h-67zM249 382h4v1h-4zM222 383h27v1h-27zM212 384h10v1h-10zM201 385h11v1h-11zM193 386h8v1h-8zM177 387h16v1h-16zM170 388h7v1h-7zM169 389h1v1h-1zM165 390h4v1h-4zM146 391h19v1h-19zM141 392h5v1h-5zM135 393h6v1h-6zM127 394h8v1h-8zM126 395h1v1h-1zM124 396h2v1h-2zM119 397h5v1h-5zM107 398h12v1h-12zM106 399h1v1h-1zM103 400h3v1h-3zM100 401h3v1h-3zM97 402h3v1h-3zM96 403h1v1h-1zM95 404h1v1h-1zM94 405h2v1h-2zM91 406h3v1h-3zM90 407h1v1h-1zM89 408h1v1h-1zM87 409h2v1h-2zM86 410h1v1h-1zM85 411h1v2h-1zM84 413h1v2h-1zM83 415h1v2h-1zM82 417h1v1h-1zM81 418h1v2h-1zM76 420h5v1h-5zM74 421h2v1h-2zM73 422h1v1h-1zM72 423h1v5h-1z"/>
</g>
<path id="border" fill="#000000" d="M61 38h561v1h-561zM61 39h1v17h-1zM101 39h1v2h-1zM141 39h1v4h-1zM181 39h1v2h-1zM221 39h1v4h-1zM261 39h1v2h-1zM301 39h1v4h-1zM341 39h1v2h-1zM381 39h1v4h-1zM421 39h1v2h-1zM461 39h1v4h-1zM501 39h1v2h-1zM541 39h1v4h-1zM581 39h1v2h-1zM621 39h1v17h-1zM61 56h5v1h-5zM617 56h5v1h-5zM61 57h1v36h-1zM621 57h1v36h-1zM61 93h3v1h-3zM619 93h3v1h-3zM61 94h1v36h-1zM621 94h1v36h-1zM61 130h5v1h-5zM617 130h5v1h-5zM61 131h1v36h-1zM621 131h1v36h-1zM61 167h3v1h-3zM619 167h3v1h-3zM61 168h1v37h-1zM621 168h1v37h-1zM61 205h5v1h-5zM617 205h5v1h-5zM61 206h1v36h-1zM621 206h1v36h-1zM61 242h3v1h-3zM619 242h3v1h-3zM61 243h1v36h-1zM621 243h1v36h-1zM61 279h5v1h-5zM617 279h5v1h-5zM61 280h1v36h-1zM621 280h1v36h-1zM61 316h3v1h-3zM619 316h3v1h-3zM61 317h1v36h-1zM621 317h1v36h-1zM61 353h5v1h-5zM617 353h5v1h-5zM61 354h1v36h-1zM621 354h1v36h-1zM61 390h3v1h-3zM619 390h3v1h-3zM61 391h1v36h-1zM621 391h1v36h-1zM141 423h1v4h-1zM221 423h1v4h-1zM301 423h1v4h-1zM381 423h1v4h-1zM461 423h1v4h-1zM541 423h1v4h-1zM101 425h1v2h-1zM181 425h1v2h-1zM261 425h1v2h-1zM341 425h1v2h-1zM421 425h1v2h-1zM501 425h1v2h-1zM581 425h1v2h-1zM61 427h561v1h-561z"/>
<g class="t">
<text x="140" y="22">Constitutional amendment: reduce the length of DPL election process</text>
<text x="49" y="431">0</text>
<text x="37" y="357">200</text>
<text x="37" y="283">400</text>
<text x="37" y="209">600</text>
<text x="37" y="134">800</text>
<text x="31" y="60">1000</text>
<text x="55" y="444">23</text>
<text x="52" y="457">Sep</text>
<text x="135" y="444">25</text>
<text x="132" y="457">Sep</text>
<text x="215" y="444">27</text>
<text x="212" y="457">Sep</text>
<text x="295" y="444">29</text>
<text x="292" y="457">Sep</text>
<text x="375" y="444">01</text>
<text x="372" y="457">Oct</text>
<text x="455" y="444">03</text>
<text x="452" y="457">Oct</text>
<text x="535" y="444">05</text>
<text x="532" y="457">Oct</text>
<text x="615" y="444">07</text>
<text x="612" y="457">Oct</text>
<text x="296" y="476">Date/Time (UTC)</text>
<text transform="translate(16,255) rotate(-90)">Ballots</text>
<text x="67" y="52">Rejected Ballots</text>
<text x="85" y="65">Vote Tallied,</text>
<text x="67" y="78">Received Ballots</text>
<text x="67" y="91">Acknowledgements</text>
</g>
</svg>
</body></html>
